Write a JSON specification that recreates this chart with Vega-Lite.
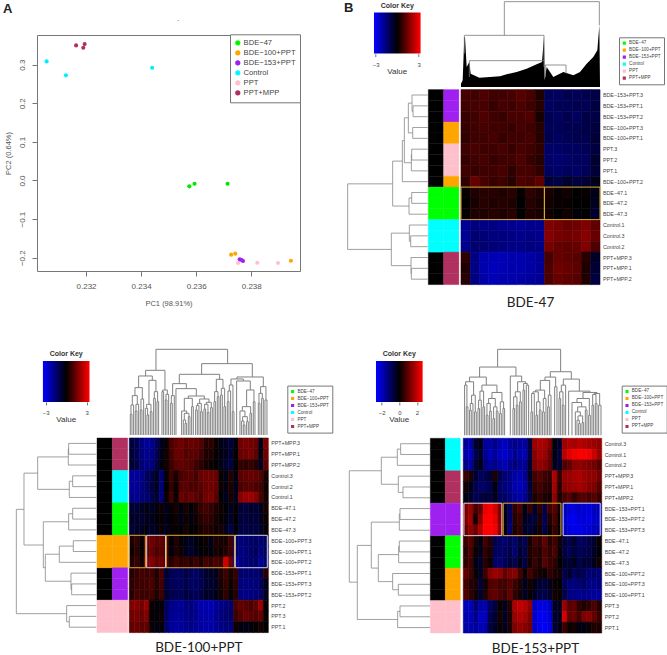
{"$schema":"https://vega.github.io/schema/vega-lite/v6.json","padding":{"left":3,"top":1,"right":0,"bottom":0},"background":"white",
"config":{"view":{"stroke":null},"font":"Liberation Sans","legend":{"title":null}},
"datasets":{
"pts":[{"g":"PPT+MPP","x":0.23164,"y":0.35},{"g":"PPT+MPP","x":0.2319,"y":0.344},{"g":"PPT+MPP","x":0.23195,"y":0.3535},{"g":"Control","x":0.23057,"y":0.3086},{"g":"Control","x":0.23127,"y":0.2724},{"g":"Control","x":0.2344,"y":0.2922},{"g":"BDE−47","x":0.23575,"y":-0.0152},{"g":"BDE−47","x":0.23594,"y":-0.0083},{"g":"BDE−47","x":0.23714,"y":-0.0083},{"g":"BDE−100+PPT","x":0.23727,"y":-0.1922},{"g":"BDE−100+PPT","x":0.23742,"y":-0.1896},{"g":"BDE−100+PPT","x":0.23944,"y":-0.2078},{"g":"PPT","x":0.23752,"y":-0.2138},{"g":"PPT","x":0.23822,"y":-0.213},{"g":"PPT","x":0.23897,"y":-0.2138},{"g":"BDE−153+PPT","x":0.23758,"y":-0.2043},{"g":"BDE−153+PPT","x":0.23765,"y":-0.206},{"g":"BDE−153+PPT","x":0.2377,"y":-0.2086}],
"rb":[{"r":1,"g":"BDE−153+PPT","label":"BDE−153+PPT.3"},{"r":2,"g":"BDE−153+PPT","label":"BDE−153+PPT.1"},{"r":3,"g":"BDE−153+PPT","label":"BDE−153+PPT.2"},{"r":4,"g":"BDE−100+PPT","label":"BDE−100+PPT.3"},{"r":5,"g":"BDE−100+PPT","label":"BDE−100+PPT.1"},{"r":6,"g":"PPT","label":"PPT.3"},{"r":7,"g":"PPT","label":"PPT.2"},{"r":8,"g":"PPT","label":"PPT.1"},{"r":9,"g":"BDE−100+PPT","label":"BDE−100+PPT.2"},{"r":10,"g":"BDE−47","label":"BDE−47.1"},{"r":11,"g":"BDE−47","label":"BDE−47.2"},{"r":12,"g":"BDE−47","label":"BDE−47.3"},{"r":13,"g":"Control","label":"Control.1"},{"r":14,"g":"Control","label":"Control.3"},{"r":15,"g":"Control","label":"Control.2"},{"r":16,"g":"PPT+MPP","label":"PPT+MPP.3"},{"r":17,"g":"PPT+MPP","label":"PPT+MPP.1"},{"r":18,"g":"PPT+MPP","label":"PPT+MPP.2"}],
"rc":[{"r":1,"g":"PPT+MPP","label":"PPT+MPP.3"},{"r":2,"g":"PPT+MPP","label":"PPT+MPP.1"},{"r":3,"g":"PPT+MPP","label":"PPT+MPP.2"},{"r":4,"g":"Control","label":"Control.3"},{"r":5,"g":"Control","label":"Control.2"},{"r":6,"g":"Control","label":"Control.1"},{"r":7,"g":"BDE−47","label":"BDE−47.1"},{"r":8,"g":"BDE−47","label":"BDE−47.2"},{"r":9,"g":"BDE−47","label":"BDE−47.3"},{"r":10,"g":"BDE−100+PPT","label":"BDE−100+PPT.3"},{"r":11,"g":"BDE−100+PPT","label":"BDE−100+PPT.1"},{"r":12,"g":"BDE−100+PPT","label":"BDE−100+PPT.2"},{"r":13,"g":"BDE−153+PPT","label":"BDE−153+PPT.1"},{"r":14,"g":"BDE−153+PPT","label":"BDE−153+PPT.3"},{"r":15,"g":"BDE−153+PPT","label":"BDE−153+PPT.2"},{"r":16,"g":"PPT","label":"PPT.2"},{"r":17,"g":"PPT","label":"PPT.3"},{"r":18,"g":"PPT","label":"PPT.1"}],
"rd":[{"r":1,"g":"Control","label":"Control.3"},{"r":2,"g":"Control","label":"Control.1"},{"r":3,"g":"Control","label":"Control.2"},{"r":4,"g":"PPT+MPP","label":"PPT+MPP.3"},{"r":5,"g":"PPT+MPP","label":"PPT+MPP.1"},{"r":6,"g":"PPT+MPP","label":"PPT+MPP.2"},{"r":7,"g":"BDE−153+PPT","label":"BDE−153+PPT.1"},{"r":8,"g":"BDE−153+PPT","label":"BDE−153+PPT.2"},{"r":9,"g":"BDE−153+PPT","label":"BDE−153+PPT.3"},{"r":10,"g":"BDE−47","label":"BDE−47.1"},{"r":11,"g":"BDE−47","label":"BDE−47.2"},{"r":12,"g":"BDE−47","label":"BDE−47.3"},{"r":13,"g":"BDE−100+PPT","label":"BDE−100+PPT.2"},{"r":14,"g":"BDE−100+PPT","label":"BDE−100+PPT.3"},{"r":15,"g":"BDE−100+PPT","label":"BDE−100+PPT.1"},{"r":16,"g":"PPT","label":"PPT.3"},{"r":17,"g":"PPT","label":"PPT.2"},{"r":18,"g":"PPT","label":"PPT.1"}],
"lb":[{"h":44,"a":1.5,"b":2.5,"ha":0,"hb":0},{"h":47,"a":0.5,"b":2,"ha":0,"hb":44},{"h":45,"a":3.5,"b":4.5,"ha":0,"hb":0},{"h":58,"a":1.25,"b":4,"ha":47,"hb":45},{"h":48,"a":5.5,"b":6.5,"ha":0,"hb":0},{"h":49,"a":6,"b":7.5,"ha":48,"hb":0},{"h":70,"a":2.6,"b":6.75,"ha":58,"hb":49},{"h":76,"a":4.7,"b":8.5,"ha":70,"hb":0},{"h":48,"a":9.5,"b":10.5,"ha":0,"hb":0},{"h":56,"a":10,"b":11.5,"ha":48,"hb":0},{"h":105,"a":6.6,"b":10.75,"ha":76,"hb":56},{"h":51,"a":13.5,"b":14.5,"ha":0,"hb":0},{"h":55,"a":12.5,"b":14,"ha":0,"hb":51},{"h":49,"a":16.5,"b":17.5,"ha":0,"hb":0},{"h":50,"a":15.5,"b":17,"ha":0,"hb":49},{"h":109,"a":13.25,"b":16.25,"ha":55,"hb":50},{"h":240,"a":8.7,"b":14.75,"ha":105,"hb":109}],
"lc":[{"h":83,"a":0.5,"b":1.5,"ha":0,"hb":0},{"h":84,"a":1,"b":2.5,"ha":83,"hb":0},{"h":71,"a":3.5,"b":4.5,"ha":0,"hb":0},{"h":81,"a":4,"b":5.5,"ha":71,"hb":0},{"h":176,"a":1.75,"b":4.75,"ha":84,"hb":81},{"h":71,"a":6.5,"b":7.5,"ha":0,"hb":0},{"h":83,"a":7,"b":8.5,"ha":71,"hb":0},{"h":69,"a":9.5,"b":10.5,"ha":0,"hb":0},{"h":111,"a":10,"b":11.5,"ha":69,"hb":0},{"h":74,"a":13.5,"b":14.5,"ha":0,"hb":0},{"h":76,"a":12.5,"b":14,"ha":0,"hb":74},{"h":153,"a":10.75,"b":13.25,"ha":111,"hb":76},{"h":159,"a":7.75,"b":12,"ha":83,"hb":153},{"h":217,"a":3.25,"b":9.9,"ha":176,"hb":159},{"h":81,"a":16.5,"b":17.5,"ha":0,"hb":0},{"h":89,"a":15.5,"b":17,"ha":0,"hb":81},{"h":240,"a":6.6,"b":16.25,"ha":217,"hb":89}],
"ld":[{"h":88,"a":0.5,"b":1.5,"ha":0,"hb":0},{"h":98,"a":1,"b":2.5,"ha":88,"hb":0},{"h":81,"a":4.5,"b":5.5,"ha":0,"hb":0},{"h":95,"a":3.5,"b":5,"ha":0,"hb":81},{"h":146,"a":1.75,"b":4.25,"ha":98,"hb":95},{"h":90,"a":6.5,"b":7.5,"ha":0,"hb":0},{"h":92,"a":7,"b":8.5,"ha":90,"hb":0},{"h":92,"a":9.5,"b":10.5,"ha":0,"hb":0},{"h":94,"a":10,"b":11.5,"ha":92,"hb":0},{"h":95,"a":13.5,"b":14.5,"ha":0,"hb":0},{"h":112,"a":12.5,"b":14,"ha":0,"hb":95},{"h":155,"a":10.75,"b":13.25,"ha":94,"hb":112},{"h":176,"a":7.75,"b":12,"ha":92,"hb":155},{"h":90,"a":15.5,"b":16.5,"ha":0,"hb":0},{"h":97,"a":16,"b":17.5,"ha":90,"hb":0},{"h":218,"a":9.9,"b":16.75,"ha":176,"hb":97},{"h":242,"a":3,"b":13.3,"ha":146,"hb":218}],
"tb":[{"h":256,"a":493,"b":778,"ha":155,"hb":185},{"h":155,"a":373,"b":612,"ha":100,"hb":79},{"h":79,"a":388,"b":612,"ha":30,"hb":60},{"h":66,"a":616,"b":678,"ha":30,"hb":40}],
"mass":[{"a":363,"h":10},{"a":368,"h":20},{"a":373,"h":150},{"a":375,"h":150},{"a":380,"h":60},{"a":388,"h":75},{"a":392,"h":40},{"a":418,"h":28},{"a":450,"h":30},{"a":480,"h":32},{"a":500,"h":38},{"a":530,"h":45},{"a":560,"h":55},{"a":590,"h":68},{"a":606,"h":75},{"a":612,"h":150},{"a":614,"h":20},{"a":620,"h":60},{"a":640,"h":30},{"a":670,"h":45},{"a":700,"h":35},{"a":720,"h":45},{"a":740,"h":70},{"a":760,"h":90},{"a":772,"h":110},{"a":778,"h":185},{"a":780,"h":10}],
"tc":[{"h":62,"a":16,"b":21,"ha":0,"hb":0},{"h":90,"a":18,"b":26,"ha":62,"hb":0},{"h":72,"a":31,"b":36,"ha":0,"hb":0},{"h":92,"a":33,"b":41,"ha":72,"hb":0},{"h":118,"a":22,"b":37,"ha":90,"hb":92},{"h":75,"a":46,"b":51,"ha":0,"hb":0},{"h":108,"a":48,"b":56,"ha":75,"hb":0},{"h":142,"a":30,"b":52,"ha":118,"hb":108},{"h":60,"a":66,"b":71,"ha":0,"hb":0},{"h":80,"a":61,"b":68,"ha":0,"hb":60},{"h":70,"a":76,"b":81,"ha":0,"hb":0},{"h":92,"a":65,"b":78,"ha":80,"hb":70},{"h":110,"a":86,"b":91,"ha":0,"hb":0},{"h":100,"a":96,"b":101,"ha":0,"hb":0},{"h":130,"a":88,"b":98,"ha":110,"hb":100},{"h":164,"a":72,"b":93,"ha":92,"hb":130},{"h":177,"a":41,"b":82,"ha":142,"hb":164},{"h":130,"a":111,"b":116,"ha":0,"hb":0},{"h":105,"a":121,"b":126,"ha":0,"hb":0},{"h":122,"a":123,"b":131,"ha":105,"hb":0},{"h":135,"a":113,"b":127,"ha":130,"hb":122},{"h":194,"a":62,"b":120,"ha":177,"hb":135},{"h":95,"a":137,"b":142,"ha":0,"hb":0},{"h":118,"a":139,"b":148,"ha":95,"hb":0},{"h":35,"a":180,"b":185,"ha":0,"hb":0},{"h":45,"a":175,"b":182,"ha":0,"hb":35},{"h":55,"a":190,"b":195,"ha":0,"hb":0},{"h":65,"a":178,"b":192,"ha":45,"hb":55},{"h":72,"a":170,"b":185,"ha":0,"hb":65},{"h":85,"a":200,"b":205,"ha":0,"hb":0},{"h":110,"a":178,"b":202,"ha":72,"hb":85},{"h":75,"a":212,"b":217,"ha":0,"hb":0},{"h":88,"a":214,"b":222,"ha":75,"hb":0},{"h":70,"a":227,"b":232,"ha":0,"hb":0},{"h":95,"a":218,"b":229,"ha":88,"hb":70},{"h":78,"a":237,"b":242,"ha":0,"hb":0},{"h":68,"a":247,"b":252,"ha":0,"hb":0},{"h":92,"a":239,"b":249,"ha":78,"hb":68},{"h":82,"a":257,"b":262,"ha":0,"hb":0},{"h":98,"a":244,"b":259,"ha":92,"hb":82},{"h":108,"a":224,"b":252,"ha":95,"hb":98},{"h":117,"a":190,"b":238,"ha":110,"hb":108},{"h":139,"a":153,"b":214,"ha":0,"hb":117},{"h":154,"a":143,"b":184,"ha":118,"hb":139},{"h":100,"a":267,"b":272,"ha":0,"hb":0},{"h":115,"a":277,"b":282,"ha":0,"hb":0},{"h":130,"a":269,"b":279,"ha":100,"hb":115},{"h":120,"a":287,"b":292,"ha":0,"hb":0},{"h":85,"a":297,"b":302,"ha":0,"hb":0},{"h":140,"a":289,"b":299,"ha":120,"hb":85},{"h":167,"a":274,"b":294,"ha":130,"hb":140},{"h":182,"a":163,"b":284,"ha":154,"hb":167},{"h":100,"a":307,"b":312,"ha":0,"hb":0},{"h":132,"a":309,"b":317,"ha":100,"hb":0},{"h":70,"a":322,"b":327,"ha":0,"hb":0},{"h":150,"a":313,"b":324,"ha":132,"hb":70},{"h":30,"a":355,"b":360,"ha":0,"hb":0},{"h":42,"a":350,"b":357,"ha":0,"hb":30},{"h":40,"a":365,"b":370,"ha":0,"hb":0},{"h":55,"a":353,"b":367,"ha":42,"hb":40},{"h":72,"a":345,"b":360,"ha":0,"hb":55},{"h":65,"a":375,"b":380,"ha":0,"hb":0},{"h":85,"a":352,"b":377,"ha":72,"hb":65},{"h":100,"a":385,"b":390,"ha":0,"hb":0},{"h":135,"a":365,"b":387,"ha":85,"hb":100},{"h":162,"a":335,"b":376,"ha":0,"hb":135},{"h":95,"a":400,"b":405,"ha":0,"hb":0},{"h":110,"a":410,"b":415,"ha":0,"hb":0},{"h":125,"a":402,"b":412,"ha":95,"hb":110},{"h":105,"a":420,"b":426,"ha":0,"hb":0},{"h":145,"a":407,"b":423,"ha":125,"hb":105},{"h":168,"a":318,"b":355,"ha":150,"hb":162},{"h":174,"a":336,"b":415,"ha":168,"hb":145},{"h":214,"a":230,"b":382,"ha":182,"hb":174},{"h":257,"a":93,"b":308,"ha":194,"hb":214}],
"td":[{"h":85,"a":18,"b":23,"ha":0,"hb":0},{"h":150,"a":13,"b":20,"ha":0,"hb":85},{"h":75,"a":28,"b":33,"ha":0,"hb":0},{"h":95,"a":30,"b":38,"ha":75,"hb":0},{"h":70,"a":43,"b":48,"ha":0,"hb":0},{"h":120,"a":34,"b":45,"ha":95,"hb":70},{"h":160,"a":16,"b":40,"ha":150,"hb":120},{"h":80,"a":53,"b":58,"ha":0,"hb":0},{"h":105,"a":55,"b":63,"ha":80,"hb":0},{"h":85,"a":68,"b":73,"ha":0,"hb":0},{"h":132,"a":59,"b":70,"ha":105,"hb":85},{"h":60,"a":78,"b":83,"ha":0,"hb":0},{"h":72,"a":88,"b":93,"ha":0,"hb":0},{"h":95,"a":80,"b":90,"ha":60,"hb":72},{"h":50,"a":98,"b":103,"ha":0,"hb":0},{"h":72,"a":108,"b":113,"ha":0,"hb":0},{"h":85,"a":100,"b":110,"ha":50,"hb":72},{"h":110,"a":85,"b":105,"ha":95,"hb":85},{"h":65,"a":118,"b":123,"ha":0,"hb":0},{"h":80,"a":128,"b":133,"ha":0,"hb":0},{"h":100,"a":120,"b":130,"ha":65,"hb":80},{"h":128,"a":95,"b":125,"ha":110,"hb":100},{"h":150,"a":65,"b":110,"ha":132,"hb":128},{"h":174,"a":28,"b":78,"ha":160,"hb":150},{"h":80,"a":158,"b":163,"ha":0,"hb":0},{"h":90,"a":168,"b":173,"ha":0,"hb":0},{"h":115,"a":160,"b":170,"ha":80,"hb":90},{"h":100,"a":178,"b":183,"ha":0,"hb":0},{"h":130,"a":165,"b":180,"ha":115,"hb":100},{"h":135,"a":188,"b":193,"ha":0,"hb":0},{"h":150,"a":198,"b":205,"ha":0,"hb":0},{"h":155,"a":190,"b":201,"ha":135,"hb":150},{"h":160,"a":172,"b":196,"ha":130,"hb":155},{"h":177,"a":150,"b":184,"ha":0,"hb":160},{"h":204,"a":58,"b":167,"ha":174,"hb":177},{"h":70,"a":212,"b":217,"ha":0,"hb":0},{"h":125,"a":214,"b":222,"ha":70,"hb":0},{"h":60,"a":227,"b":232,"ha":0,"hb":0},{"h":75,"a":237,"b":242,"ha":0,"hb":0},{"h":100,"a":229,"b":239,"ha":60,"hb":75},{"h":130,"a":218,"b":234,"ha":125,"hb":100},{"h":70,"a":247,"b":252,"ha":0,"hb":0},{"h":110,"a":249,"b":257,"ha":70,"hb":0},{"h":135,"a":226,"b":253,"ha":130,"hb":110},{"h":85,"a":262,"b":267,"ha":0,"hb":0},{"h":120,"a":264,"b":272,"ha":85,"hb":0},{"h":164,"a":240,"b":268,"ha":135,"hb":120},{"h":145,"a":283,"b":290,"ha":0,"hb":0},{"h":174,"a":254,"b":286,"ha":164,"hb":145},{"h":110,"a":296,"b":301,"ha":0,"hb":0},{"h":90,"a":306,"b":311,"ha":0,"hb":0},{"h":130,"a":298,"b":308,"ha":110,"hb":90},{"h":150,"a":303,"b":316,"ha":130,"hb":0},{"h":35,"a":355,"b":360,"ha":0,"hb":0},{"h":45,"a":350,"b":357,"ha":0,"hb":35},{"h":38,"a":365,"b":370,"ha":0,"hb":0},{"h":58,"a":353,"b":367,"ha":45,"hb":38},{"h":70,"a":345,"b":360,"ha":0,"hb":58},{"h":75,"a":375,"b":380,"ha":0,"hb":0},{"h":85,"a":352,"b":377,"ha":70,"hb":75},{"h":98,"a":335,"b":364,"ha":0,"hb":85},{"h":60,"a":385,"b":390,"ha":0,"hb":0},{"h":110,"a":350,"b":387,"ha":98,"hb":60},{"h":90,"a":395,"b":400,"ha":0,"hb":0},{"h":95,"a":405,"b":410,"ha":0,"hb":0},{"h":122,"a":397,"b":407,"ha":90,"hb":95},{"h":90,"a":415,"b":422,"ha":0,"hb":0},{"h":125,"a":402,"b":418,"ha":122,"hb":90},{"h":128,"a":368,"b":410,"ha":110,"hb":125},{"h":132,"a":325,"b":389,"ha":0,"hb":128},{"h":168,"a":309,"b":357,"ha":150,"hb":132},{"h":190,"a":270,"b":333,"ha":174,"hb":168},{"h":257,"a":112,"b":301,"ha":204,"hb":190}],
"bb":[{"a":0,"b":9,"t":9,"u":12,"k":"up"},{"a":9,"b":15,"t":9,"u":12,"k":"up"}],
"bc":[{"a":0,"b":3.3,"t":9,"u":12,"k":"up"},{"a":3.5,"b":7.3,"t":9,"u":12,"k":"down"},{"a":7.45,"b":21.2,"t":9,"u":12,"k":"up"},{"a":21.35,"b":27.8,"t":9,"u":12,"k":"down"}],
"bd":[{"a":0.13,"b":7.8,"t":6,"u":9,"k":"down"},{"a":8.07,"b":19.75,"t":6,"u":9,"k":"up"},{"a":20.2,"b":27.7,"t":6,"u":9,"k":"down"}],
"cb":[
{"r":1,"c":1,"v":0.9},{"r":1,"c":2,"v":0.8},{"r":1,"c":3,"v":1.0},{"r":1,"c":4,"v":0.8},{"r":1,"c":5,"v":0.8},{"r":1,"c":6,"v":0.9},{"r":1,"c":7,"v":1.1},{"r":1,"c":8,"v":0.9},{"r":1,"c":9,"v":0.4},{"r":1,"c":10,"v":-1.1},{"r":1,"c":11,"v":-1.2},{"r":1,"c":12,"v":-1.0},{"r":1,"c":13,"v":-1.1},{"r":1,"c":14,"v":-1.0},{"r":1,"c":15,"v":-0.9},
{"r":2,"c":1,"v":0.8},{"r":2,"c":2,"v":0.9},{"r":2,"c":3,"v":0.9},{"r":2,"c":4,"v":0.7},{"r":2,"c":5,"v":0.9},{"r":2,"c":6,"v":0.8},{"r":2,"c":7,"v":1.0},{"r":2,"c":8,"v":0.8},{"r":2,"c":9,"v":0.5},{"r":2,"c":10,"v":-1.2},{"r":2,"c":11,"v":-1.1},{"r":2,"c":12,"v":-1.1},{"r":2,"c":13,"v":-1.0},{"r":2,"c":14,"v":-1.1},{"r":2,"c":15,"v":-0.8},
{"r":3,"c":1,"v":0.7},{"r":3,"c":2,"v":0.8},{"r":3,"c":3,"v":1.0},{"r":3,"c":4,"v":0.8},{"r":3,"c":5,"v":0.7},{"r":3,"c":6,"v":0.9},{"r":3,"c":7,"v":0.9},{"r":3,"c":8,"v":1.0},{"r":3,"c":9,"v":0.3},{"r":3,"c":10,"v":-1.0},{"r":3,"c":11,"v":-1.2},{"r":3,"c":12,"v":-1.0},{"r":3,"c":13,"v":-1.2},{"r":3,"c":14,"v":-0.9},{"r":3,"c":15,"v":-0.9},
{"r":4,"c":1,"v":0.7},{"r":4,"c":2,"v":0.8},{"r":4,"c":3,"v":0.9},{"r":4,"c":4,"v":0.8},{"r":4,"c":5,"v":0.8},{"r":4,"c":6,"v":0.7},{"r":4,"c":7,"v":0.9},{"r":4,"c":8,"v":0.8},{"r":4,"c":9,"v":0.5},{"r":4,"c":10,"v":-1.1},{"r":4,"c":11,"v":-1.1},{"r":4,"c":12,"v":-1.0},{"r":4,"c":13,"v":-1.0},{"r":4,"c":14,"v":-0.9},{"r":4,"c":15,"v":-0.8},
{"r":5,"c":1,"v":0.6},{"r":5,"c":2,"v":0.8},{"r":5,"c":3,"v":0.8},{"r":5,"c":4,"v":0.9},{"r":5,"c":5,"v":0.7},{"r":5,"c":6,"v":0.8},{"r":5,"c":7,"v":0.8},{"r":5,"c":8,"v":0.9},{"r":5,"c":9,"v":0.5},{"r":5,"c":10,"v":-1.0},{"r":5,"c":11,"v":-1.2},{"r":5,"c":12,"v":-1.1},{"r":5,"c":13,"v":-1.0},{"r":5,"c":14,"v":-1.0},{"r":5,"c":15,"v":-0.7},
{"r":6,"c":1,"v":0.8},{"r":6,"c":2,"v":0.9},{"r":6,"c":3,"v":0.8},{"r":6,"c":4,"v":0.8},{"r":6,"c":5,"v":0.9},{"r":6,"c":6,"v":0.7},{"r":6,"c":7,"v":0.9},{"r":6,"c":8,"v":0.8},{"r":6,"c":9,"v":0.6},{"r":6,"c":10,"v":-1.3},{"r":6,"c":11,"v":-1.3},{"r":6,"c":12,"v":-1.2},{"r":6,"c":13,"v":-1.2},{"r":6,"c":14,"v":-1.1},{"r":6,"c":15,"v":-0.8},
{"r":7,"c":1,"v":0.7},{"r":7,"c":2,"v":0.8},{"r":7,"c":3,"v":0.9},{"r":7,"c":4,"v":0.7},{"r":7,"c":5,"v":0.8},{"r":7,"c":6,"v":0.8},{"r":7,"c":7,"v":1.0},{"r":7,"c":8,"v":0.7},{"r":7,"c":9,"v":0.5},{"r":7,"c":10,"v":-1.3},{"r":7,"c":11,"v":-1.4},{"r":7,"c":12,"v":-1.3},{"r":7,"c":13,"v":-1.2},{"r":7,"c":14,"v":-1.2},{"r":7,"c":15,"v":-0.6},
{"r":8,"c":1,"v":0.8},{"r":8,"c":2,"v":0.7},{"r":8,"c":3,"v":0.8},{"r":8,"c":4,"v":0.8},{"r":8,"c":5,"v":0.9},{"r":8,"c":6,"v":0.6},{"r":8,"c":7,"v":0.9},{"r":8,"c":8,"v":0.9},{"r":8,"c":9,"v":0.6},{"r":8,"c":10,"v":-1.2},{"r":8,"c":11,"v":-1.3},{"r":8,"c":12,"v":-1.2},{"r":8,"c":13,"v":-1.3},{"r":8,"c":14,"v":-1.1},{"r":8,"c":15,"v":-0.7},
{"r":9,"c":1,"v":0.6},{"r":9,"c":2,"v":1.3},{"r":9,"c":3,"v":0.9},{"r":9,"c":4,"v":0.7},{"r":9,"c":5,"v":0.8},{"r":9,"c":6,"v":0.5},{"r":9,"c":7,"v":1.0},{"r":9,"c":8,"v":0.9},{"r":9,"c":9,"v":1.2},{"r":9,"c":10,"v":-0.7},{"r":9,"c":11,"v":-0.9},{"r":9,"c":12,"v":-0.6},{"r":9,"c":13,"v":-0.8},{"r":9,"c":14,"v":-0.7},{"r":9,"c":15,"v":-0.3},
{"r":10,"c":1,"v":0.1},{"r":10,"c":2,"v":0.4},{"r":10,"c":3,"v":0.5},{"r":10,"c":4,"v":0.5},{"r":10,"c":5,"v":0.4},{"r":10,"c":6,"v":0.5},{"r":10,"c":7,"v":0.1},{"r":10,"c":8,"v":0.6},{"r":10,"c":9,"v":0.4},{"r":10,"c":10,"v":0.3},{"r":10,"c":11,"v":0.1},{"r":10,"c":12,"v":0.2},{"r":10,"c":13,"v":0.0},{"r":10,"c":14,"v":0.1},{"r":10,"c":15,"v":-0.3},
{"r":11,"c":1,"v":0.0},{"r":11,"c":2,"v":0.3},{"r":11,"c":3,"v":0.5},{"r":11,"c":4,"v":0.4},{"r":11,"c":5,"v":0.5},{"r":11,"c":6,"v":0.4},{"r":11,"c":7,"v":0.0},{"r":11,"c":8,"v":0.5},{"r":11,"c":9,"v":0.3},{"r":11,"c":10,"v":0.2},{"r":11,"c":11,"v":0.1},{"r":11,"c":12,"v":0.1},{"r":11,"c":13,"v":0.0},{"r":11,"c":14,"v":0.0},{"r":11,"c":15,"v":-0.4},
{"r":12,"c":1,"v":0.1},{"r":12,"c":2,"v":0.4},{"r":12,"c":3,"v":0.4},{"r":12,"c":4,"v":0.5},{"r":12,"c":5,"v":0.4},{"r":12,"c":6,"v":0.5},{"r":12,"c":7,"v":0.0},{"r":12,"c":8,"v":0.4},{"r":12,"c":9,"v":0.3},{"r":12,"c":10,"v":0.2},{"r":12,"c":11,"v":0.0},{"r":12,"c":12,"v":0.2},{"r":12,"c":13,"v":-0.1},{"r":12,"c":14,"v":0.0},{"r":12,"c":15,"v":-0.6},
{"r":13,"c":1,"v":-1.9},{"r":13,"c":2,"v":-1.6},{"r":13,"c":3,"v":-1.7},{"r":13,"c":4,"v":-1.7},{"r":13,"c":5,"v":-1.8},{"r":13,"c":6,"v":-1.8},{"r":13,"c":7,"v":-1.9},{"r":13,"c":8,"v":-1.8},{"r":13,"c":9,"v":-1.8},{"r":13,"c":10,"v":1.6},{"r":13,"c":11,"v":1.5},{"r":13,"c":12,"v":1.3},{"r":13,"c":13,"v":1.4},{"r":13,"c":14,"v":1.6},{"r":13,"c":15,"v":1.2},
{"r":14,"c":1,"v":-1.9},{"r":14,"c":2,"v":-1.4},{"r":14,"c":3,"v":-1.5},{"r":14,"c":4,"v":-1.6},{"r":14,"c":5,"v":-1.6},{"r":14,"c":6,"v":-1.7},{"r":14,"c":7,"v":-1.8},{"r":14,"c":8,"v":-1.7},{"r":14,"c":9,"v":-1.8},{"r":14,"c":10,"v":1.7},{"r":14,"c":11,"v":1.5},{"r":14,"c":12,"v":1.4},{"r":14,"c":13,"v":1.5},{"r":14,"c":14,"v":1.7},{"r":14,"c":15,"v":1.3},
{"r":15,"c":1,"v":-1.8},{"r":15,"c":2,"v":-1.4},{"r":15,"c":3,"v":-1.4},{"r":15,"c":4,"v":-1.5},{"r":15,"c":5,"v":-1.6},{"r":15,"c":6,"v":-1.7},{"r":15,"c":7,"v":-1.7},{"r":15,"c":8,"v":-1.6},{"r":15,"c":9,"v":-1.7},{"r":15,"c":10,"v":1.5},{"r":15,"c":11,"v":1.3},{"r":15,"c":12,"v":1.2},{"r":15,"c":13,"v":1.3},{"r":15,"c":14,"v":1.6},{"r":15,"c":15,"v":1.0},
{"r":16,"c":1,"v":0.6},{"r":16,"c":2,"v":-1.7},{"r":16,"c":3,"v":-2.2},{"r":16,"c":4,"v":-2.3},{"r":16,"c":5,"v":-2.3},{"r":16,"c":6,"v":-2.2},{"r":16,"c":7,"v":-2.2},{"r":16,"c":8,"v":-2.1},{"r":16,"c":9,"v":-1.9},{"r":16,"c":10,"v":0.9},{"r":16,"c":11,"v":1.3},{"r":16,"c":12,"v":1.2},{"r":16,"c":13,"v":1.1},{"r":16,"c":14,"v":0.5},{"r":16,"c":15,"v":-0.5},
{"r":17,"c":1,"v":0.4},{"r":17,"c":2,"v":-1.7},{"r":17,"c":3,"v":-2.2},{"r":17,"c":4,"v":-2.4},{"r":17,"c":5,"v":-2.3},{"r":17,"c":6,"v":-2.2},{"r":17,"c":7,"v":-2.2},{"r":17,"c":8,"v":-2.1},{"r":17,"c":9,"v":-1.9},{"r":17,"c":10,"v":1.0},{"r":17,"c":11,"v":1.4},{"r":17,"c":12,"v":1.3},{"r":17,"c":13,"v":1.2},{"r":17,"c":14,"v":0.4},{"r":17,"c":15,"v":-0.7},
{"r":18,"c":1,"v":0.5},{"r":18,"c":2,"v":-1.6},{"r":18,"c":3,"v":-2.1},{"r":18,"c":4,"v":-2.3},{"r":18,"c":5,"v":-2.2},{"r":18,"c":6,"v":-2.2},{"r":18,"c":7,"v":-2.1},{"r":18,"c":8,"v":-2.0},{"r":18,"c":9,"v":-1.9},{"r":18,"c":10,"v":1.0},{"r":18,"c":11,"v":1.3},{"r":18,"c":12,"v":1.2},{"r":18,"c":13,"v":1.1},{"r":18,"c":14,"v":0.4},{"r":18,"c":15,"v":-0.8}],
"cc":[
{"r":1,"c":1,"v":-0.8},{"r":1,"c":2,"v":-1},{"r":1,"c":3,"v":-1.7},{"r":1,"c":4,"v":-2},{"r":1,"c":5,"v":-1.9},{"r":1,"c":6,"v":-1.3},{"r":1,"c":7,"v":-0.4},{"r":1,"c":8,"v":0.1},{"r":1,"c":9,"v":1},{"r":1,"c":10,"v":1.3},{"r":1,"c":11,"v":1.5},{"r":1,"c":12,"v":1.2},{"r":1,"c":13,"v":1.4},{"r":1,"c":14,"v":1.3},{"r":1,"c":15,"v":1.1},{"r":1,"c":16,"v":0.5},{"r":1,"c":17,"v":0.6},{"r":1,"c":18,"v":0.2},{"r":1,"c":19,"v":-0.3},{"r":1,"c":20,"v":-0.5},{"r":1,"c":21,"v":-0.8},{"r":1,"c":22,"v":-0.1},{"r":1,"c":23,"v":1.5},{"r":1,"c":24,"v":1.6},{"r":1,"c":25,"v":1.5},{"r":1,"c":26,"v":1.4},{"r":1,"c":27,"v":-0.3},{"r":1,"c":28,"v":1.6},
{"r":2,"c":1,"v":-0.7},{"r":2,"c":2,"v":-1.1},{"r":2,"c":3,"v":-1.6},{"r":2,"c":4,"v":-1.9},{"r":2,"c":5,"v":-1.8},{"r":2,"c":6,"v":-1.2},{"r":2,"c":7,"v":-0.3},{"r":2,"c":8,"v":0.2},{"r":2,"c":9,"v":0.9},{"r":2,"c":10,"v":1.4},{"r":2,"c":11,"v":1.4},{"r":2,"c":12,"v":1.1},{"r":2,"c":13,"v":1.2},{"r":2,"c":14,"v":1.2},{"r":2,"c":15,"v":0.9},{"r":2,"c":16,"v":0.4},{"r":2,"c":17,"v":0.4},{"r":2,"c":18,"v":0.1},{"r":2,"c":19,"v":-0.2},{"r":2,"c":20,"v":-0.4},{"r":2,"c":21,"v":-0.7},{"r":2,"c":22,"v":0},{"r":2,"c":23,"v":1.4},{"r":2,"c":24,"v":1.5},{"r":2,"c":25,"v":1.6},{"r":2,"c":26,"v":1.3},{"r":2,"c":27,"v":-0.2},{"r":2,"c":28,"v":1.5},
{"r":3,"c":1,"v":-0.6},{"r":3,"c":2,"v":-0.9},{"r":3,"c":3,"v":-1.5},{"r":3,"c":4,"v":-1.8},{"r":3,"c":5,"v":-1.7},{"r":3,"c":6,"v":-1},{"r":3,"c":7,"v":-0.2},{"r":3,"c":8,"v":0.2},{"r":3,"c":9,"v":0.8},{"r":3,"c":10,"v":1.2},{"r":3,"c":11,"v":1.3},{"r":3,"c":12,"v":1.2},{"r":3,"c":13,"v":1.1},{"r":3,"c":14,"v":0.8},{"r":3,"c":15,"v":0.6},{"r":3,"c":16,"v":0.3},{"r":3,"c":17,"v":0.2},{"r":3,"c":18,"v":0},{"r":3,"c":19,"v":-0.3},{"r":3,"c":20,"v":-0.6},{"r":3,"c":21,"v":-0.9},{"r":3,"c":22,"v":0},{"r":3,"c":23,"v":0.7},{"r":3,"c":24,"v":0.6},{"r":3,"c":25,"v":0.7},{"r":3,"c":26,"v":0.5},{"r":3,"c":27,"v":-0.4},{"r":3,"c":28,"v":1.2},
{"r":4,"c":1,"v":-2},{"r":4,"c":2,"v":-2.1},{"r":4,"c":3,"v":-1.8},{"r":4,"c":4,"v":-1.3},{"r":4,"c":5,"v":-1},{"r":4,"c":6,"v":-0.4},{"r":4,"c":7,"v":-1.5},{"r":4,"c":8,"v":-0.1},{"r":4,"c":9,"v":0.8},{"r":4,"c":10,"v":0.3},{"r":4,"c":11,"v":1},{"r":4,"c":12,"v":1.1},{"r":4,"c":13,"v":1.2},{"r":4,"c":14,"v":0.9},{"r":4,"c":15,"v":1.4},{"r":4,"c":16,"v":1.5},{"r":4,"c":17,"v":1.5},{"r":4,"c":18,"v":1.4},{"r":4,"c":19,"v":0.1},{"r":4,"c":20,"v":-0.3},{"r":4,"c":21,"v":0.5},{"r":4,"c":22,"v":-0.2},{"r":4,"c":23,"v":1.2},{"r":4,"c":24,"v":1.3},{"r":4,"c":25,"v":1.4},{"r":4,"c":26,"v":1.3},{"r":4,"c":27,"v":1.1},{"r":4,"c":28,"v":0.3},
{"r":5,"c":1,"v":-1.9},{"r":5,"c":2,"v":-2},{"r":5,"c":3,"v":-1.7},{"r":5,"c":4,"v":-1.4},{"r":5,"c":5,"v":-0.9},{"r":5,"c":6,"v":-0.5},{"r":5,"c":7,"v":-1.6},{"r":5,"c":8,"v":0},{"r":5,"c":9,"v":0.7},{"r":5,"c":10,"v":0.2},{"r":5,"c":11,"v":1.1},{"r":5,"c":12,"v":1.2},{"r":5,"c":13,"v":1},{"r":5,"c":14,"v":1},{"r":5,"c":15,"v":1.2},{"r":5,"c":16,"v":1.4},{"r":5,"c":17,"v":1.5},{"r":5,"c":18,"v":1.3},{"r":5,"c":19,"v":0.2},{"r":5,"c":20,"v":-0.2},{"r":5,"c":21,"v":0.4},{"r":5,"c":22,"v":-0.3},{"r":5,"c":23,"v":1},{"r":5,"c":24,"v":1.1},{"r":5,"c":25,"v":1.2},{"r":5,"c":26,"v":1},{"r":5,"c":27,"v":0.9},{"r":5,"c":28,"v":0.2},
{"r":6,"c":1,"v":-1.8},{"r":6,"c":2,"v":-1.9},{"r":6,"c":3,"v":-1.6},{"r":6,"c":4,"v":-1.5},{"r":6,"c":5,"v":-1.1},{"r":6,"c":6,"v":-0.6},{"r":6,"c":7,"v":-1.7},{"r":6,"c":8,"v":0.1},{"r":6,"c":9,"v":0.9},{"r":6,"c":10,"v":0.1},{"r":6,"c":11,"v":1.4},{"r":6,"c":12,"v":1.2},{"r":6,"c":13,"v":1.4},{"r":6,"c":14,"v":1.2},{"r":6,"c":15,"v":1},{"r":6,"c":16,"v":1.5},{"r":6,"c":17,"v":1.6},{"r":6,"c":18,"v":1.2},{"r":6,"c":19,"v":0},{"r":6,"c":20,"v":-0.4},{"r":6,"c":21,"v":0.3},{"r":6,"c":22,"v":-0.4},{"r":6,"c":23,"v":1.8},{"r":6,"c":24,"v":2},{"r":6,"c":25,"v":2.1},{"r":6,"c":26,"v":1.8},{"r":6,"c":27,"v":1},{"r":6,"c":28,"v":0.3},
{"r":7,"c":1,"v":-0.6},{"r":7,"c":2,"v":-0.7},{"r":7,"c":3,"v":-0.5},{"r":7,"c":4,"v":-0.3},{"r":7,"c":5,"v":-0.5},{"r":7,"c":6,"v":-0.2},{"r":7,"c":7,"v":0.2},{"r":7,"c":8,"v":-0.4},{"r":7,"c":9,"v":0.1},{"r":7,"c":10,"v":0.3},{"r":7,"c":11,"v":-0.2},{"r":7,"c":12,"v":0.3},{"r":7,"c":13,"v":-0.1},{"r":7,"c":14,"v":0.3},{"r":7,"c":15,"v":0.7},{"r":7,"c":16,"v":0.9},{"r":7,"c":17,"v":0.7},{"r":7,"c":18,"v":0.4},{"r":7,"c":19,"v":0.2},{"r":7,"c":20,"v":-0.1},{"r":7,"c":21,"v":-0.5},{"r":7,"c":22,"v":0.1},{"r":7,"c":23,"v":-0.7},{"r":7,"c":24,"v":-0.8},{"r":7,"c":25,"v":-0.6},{"r":7,"c":26,"v":-0.7},{"r":7,"c":27,"v":-0.4},{"r":7,"c":28,"v":0.3},
{"r":8,"c":1,"v":-0.5},{"r":8,"c":2,"v":-0.6},{"r":8,"c":3,"v":-0.6},{"r":8,"c":4,"v":-0.4},{"r":8,"c":5,"v":-0.4},{"r":8,"c":6,"v":-0.1},{"r":8,"c":7,"v":0.1},{"r":8,"c":8,"v":-0.3},{"r":8,"c":9,"v":0},{"r":8,"c":10,"v":0.2},{"r":8,"c":11,"v":-0.3},{"r":8,"c":12,"v":0.2},{"r":8,"c":13,"v":-0.2},{"r":8,"c":14,"v":0.2},{"r":8,"c":15,"v":0.5},{"r":8,"c":16,"v":0.7},{"r":8,"c":17,"v":0.6},{"r":8,"c":18,"v":0.3},{"r":8,"c":19,"v":0.1},{"r":8,"c":20,"v":-0.2},{"r":8,"c":21,"v":-0.6},{"r":8,"c":22,"v":0},{"r":8,"c":23,"v":-0.8},{"r":8,"c":24,"v":-0.8},{"r":8,"c":25,"v":-0.7},{"r":8,"c":26,"v":-0.8},{"r":8,"c":27,"v":-0.5},{"r":8,"c":28,"v":0.2},
{"r":9,"c":1,"v":-0.7},{"r":9,"c":2,"v":-0.6},{"r":9,"c":3,"v":-0.5},{"r":9,"c":4,"v":-0.2},{"r":9,"c":5,"v":-0.6},{"r":9,"c":6,"v":-0.3},{"r":9,"c":7,"v":0.2},{"r":9,"c":8,"v":-0.5},{"r":9,"c":9,"v":0.1},{"r":9,"c":10,"v":0.1},{"r":9,"c":11,"v":-0.1},{"r":9,"c":12,"v":0.3},{"r":9,"c":13,"v":0},{"r":9,"c":14,"v":0.1},{"r":9,"c":15,"v":0.3},{"r":9,"c":16,"v":0.5},{"r":9,"c":17,"v":0.4},{"r":9,"c":18,"v":0.2},{"r":9,"c":19,"v":0.3},{"r":9,"c":20,"v":-0.4},{"r":9,"c":21,"v":-1},{"r":9,"c":22,"v":-0.1},{"r":9,"c":23,"v":-0.9},{"r":9,"c":24,"v":-1},{"r":9,"c":25,"v":-0.8},{"r":9,"c":26,"v":-0.9},{"r":9,"c":27,"v":-0.6},{"r":9,"c":28,"v":0.1},
{"r":10,"c":1,"v":0.3},{"r":10,"c":2,"v":0.7},{"r":10,"c":3,"v":0.1},{"r":10,"c":4,"v":1.3},{"r":10,"c":5,"v":1.5},{"r":10,"c":6,"v":1.2},{"r":10,"c":7,"v":1.3},{"r":10,"c":8,"v":1},{"r":10,"c":9,"v":-0.1},{"r":10,"c":10,"v":0.5},{"r":10,"c":11,"v":0.1},{"r":10,"c":12,"v":-0.3},{"r":10,"c":13,"v":-0.5},{"r":10,"c":14,"v":-0.2},{"r":10,"c":15,"v":0},{"r":10,"c":16,"v":0.2},{"r":10,"c":17,"v":-0.3},{"r":10,"c":18,"v":0.4},{"r":10,"c":19,"v":0.3},{"r":10,"c":20,"v":0.3},{"r":10,"c":21,"v":0.9},{"r":10,"c":22,"v":-1.3},{"r":10,"c":23,"v":-1.6},{"r":10,"c":24,"v":-1.5},{"r":10,"c":25,"v":-1.4},{"r":10,"c":26,"v":-1.3},{"r":10,"c":27,"v":-1.5},{"r":10,"c":28,"v":-1.2},
{"r":11,"c":1,"v":0.2},{"r":11,"c":2,"v":0.6},{"r":11,"c":3,"v":0.1},{"r":11,"c":4,"v":1.2},{"r":11,"c":5,"v":1.4},{"r":11,"c":6,"v":1},{"r":11,"c":7,"v":1.2},{"r":11,"c":8,"v":0.9},{"r":11,"c":9,"v":-0.2},{"r":11,"c":10,"v":0.4},{"r":11,"c":11,"v":0.2},{"r":11,"c":12,"v":-0.4},{"r":11,"c":13,"v":-0.6},{"r":11,"c":14,"v":-0.3},{"r":11,"c":15,"v":-0.1},{"r":11,"c":16,"v":0.1},{"r":11,"c":17,"v":-0.2},{"r":11,"c":18,"v":0.3},{"r":11,"c":19,"v":0.2},{"r":11,"c":20,"v":0.4},{"r":11,"c":21,"v":0.8},{"r":11,"c":22,"v":-1.4},{"r":11,"c":23,"v":-1.7},{"r":11,"c":24,"v":-1.6},{"r":11,"c":25,"v":-1.4},{"r":11,"c":26,"v":-1.2},{"r":11,"c":27,"v":-1.6},{"r":11,"c":28,"v":-1.3},
{"r":12,"c":1,"v":0.4},{"r":12,"c":2,"v":0.8},{"r":12,"c":3,"v":0.2},{"r":12,"c":4,"v":1.6},{"r":12,"c":5,"v":1.8},{"r":12,"c":6,"v":1.4},{"r":12,"c":7,"v":1.5},{"r":12,"c":8,"v":1},{"r":12,"c":9,"v":0.5},{"r":12,"c":10,"v":0.9},{"r":12,"c":11,"v":0.6},{"r":12,"c":12,"v":0.7},{"r":12,"c":13,"v":0.5},{"r":12,"c":14,"v":0.8},{"r":12,"c":15,"v":0.4},{"r":12,"c":16,"v":0.9},{"r":12,"c":17,"v":0.7},{"r":12,"c":18,"v":1},{"r":12,"c":19,"v":0.8},{"r":12,"c":20,"v":2.8},{"r":12,"c":21,"v":1.4},{"r":12,"c":22,"v":-2.2},{"r":12,"c":23,"v":-1.7},{"r":12,"c":24,"v":-1.6},{"r":12,"c":25,"v":-1.5},{"r":12,"c":26,"v":-1.4},{"r":12,"c":27,"v":-2},{"r":12,"c":28,"v":-1.4},
{"r":13,"c":1,"v":0.5},{"r":13,"c":2,"v":0.7},{"r":13,"c":3,"v":0.9},{"r":13,"c":4,"v":0.8},{"r":13,"c":5,"v":0.9},{"r":13,"c":6,"v":0.4},{"r":13,"c":7,"v":1},{"r":13,"c":8,"v":-0.7},{"r":13,"c":9,"v":-1.1},{"r":13,"c":10,"v":-1.3},{"r":13,"c":11,"v":-1.2},{"r":13,"c":12,"v":-0.9},{"r":13,"c":13,"v":-1.2},{"r":13,"c":14,"v":-1.4},{"r":13,"c":15,"v":-1},{"r":13,"c":16,"v":-0.6},{"r":13,"c":17,"v":-0.5},{"r":13,"c":18,"v":-0.4},{"r":13,"c":19,"v":0.4},{"r":13,"c":20,"v":0.8},{"r":13,"c":21,"v":0.3},{"r":13,"c":22,"v":0.7},{"r":13,"c":23,"v":-1.4},{"r":13,"c":24,"v":-1.5},{"r":13,"c":25,"v":-1.4},{"r":13,"c":26,"v":-1.5},{"r":13,"c":27,"v":-1.2},{"r":13,"c":28,"v":0.5},
{"r":14,"c":1,"v":0.6},{"r":14,"c":2,"v":0.8},{"r":14,"c":3,"v":0.8},{"r":14,"c":4,"v":0.9},{"r":14,"c":5,"v":1},{"r":14,"c":6,"v":0.5},{"r":14,"c":7,"v":0.9},{"r":14,"c":8,"v":-0.8},{"r":14,"c":9,"v":-1.2},{"r":14,"c":10,"v":-1.2},{"r":14,"c":11,"v":-1.3},{"r":14,"c":12,"v":-1},{"r":14,"c":13,"v":-1.3},{"r":14,"c":14,"v":-1.3},{"r":14,"c":15,"v":-1.1},{"r":14,"c":16,"v":-0.7},{"r":14,"c":17,"v":-0.6},{"r":14,"c":18,"v":-0.5},{"r":14,"c":19,"v":0.3},{"r":14,"c":20,"v":0.7},{"r":14,"c":21,"v":0.2},{"r":14,"c":22,"v":0.6},{"r":14,"c":23,"v":-1.6},{"r":14,"c":24,"v":-1.7},{"r":14,"c":25,"v":-1.6},{"r":14,"c":26,"v":-1.6},{"r":14,"c":27,"v":-1.3},{"r":14,"c":28,"v":-0.3},
{"r":15,"c":1,"v":0.5},{"r":15,"c":2,"v":0.9},{"r":15,"c":3,"v":0.8},{"r":15,"c":4,"v":0.8},{"r":15,"c":5,"v":0.9},{"r":15,"c":6,"v":0.4},{"r":15,"c":7,"v":0.8},{"r":15,"c":8,"v":-0.6},{"r":15,"c":9,"v":-1},{"r":15,"c":10,"v":-1.1},{"r":15,"c":11,"v":-1.2},{"r":15,"c":12,"v":-0.8},{"r":15,"c":13,"v":-1.1},{"r":15,"c":14,"v":-1.2},{"r":15,"c":15,"v":-0.9},{"r":15,"c":16,"v":-0.5},{"r":15,"c":17,"v":-0.6},{"r":15,"c":18,"v":-0.3},{"r":15,"c":19,"v":0.2},{"r":15,"c":20,"v":0.6},{"r":15,"c":21,"v":0.1},{"r":15,"c":22,"v":0.5},{"r":15,"c":23,"v":-1.7},{"r":15,"c":24,"v":-1.8},{"r":15,"c":25,"v":-1.7},{"r":15,"c":26,"v":-1.6},{"r":15,"c":27,"v":-1.4},{"r":15,"c":28,"v":-0.4},
{"r":16,"c":1,"v":1.7},{"r":16,"c":2,"v":1.8},{"r":16,"c":3,"v":1.5},{"r":16,"c":4,"v":2},{"r":16,"c":5,"v":0.2},{"r":16,"c":6,"v":-0.2},{"r":16,"c":7,"v":0.1},{"r":16,"c":8,"v":-1.2},{"r":16,"c":9,"v":-1.8},{"r":16,"c":10,"v":-1.9},{"r":16,"c":11,"v":-2},{"r":16,"c":12,"v":-1.7},{"r":16,"c":13,"v":-1.6},{"r":16,"c":14,"v":-2},{"r":16,"c":15,"v":-2.3},{"r":16,"c":16,"v":-2.3},{"r":16,"c":17,"v":-2.4},{"r":16,"c":18,"v":-2},{"r":16,"c":19,"v":-1.8},{"r":16,"c":20,"v":-1.6},{"r":16,"c":21,"v":-1.5},{"r":16,"c":22,"v":1},{"r":16,"c":23,"v":1.3},{"r":16,"c":24,"v":1.2},{"r":16,"c":25,"v":1},{"r":16,"c":26,"v":1.3},{"r":16,"c":27,"v":2},{"r":16,"c":28,"v":0.1},
{"r":17,"c":1,"v":1.5},{"r":17,"c":2,"v":1.6},{"r":17,"c":3,"v":1.4},{"r":17,"c":4,"v":1.7},{"r":17,"c":5,"v":0.1},{"r":17,"c":6,"v":-0.1},{"r":17,"c":7,"v":0.2},{"r":17,"c":8,"v":-1.3},{"r":17,"c":9,"v":-1.9},{"r":17,"c":10,"v":-2},{"r":17,"c":11,"v":-2},{"r":17,"c":12,"v":-1.8},{"r":17,"c":13,"v":-1.7},{"r":17,"c":14,"v":-1.9},{"r":17,"c":15,"v":-2.2},{"r":17,"c":16,"v":-2.2},{"r":17,"c":17,"v":-2.3},{"r":17,"c":18,"v":-1.9},{"r":17,"c":19,"v":-1.7},{"r":17,"c":20,"v":-1.5},{"r":17,"c":21,"v":-1.4},{"r":17,"c":22,"v":0.8},{"r":17,"c":23,"v":1.1},{"r":17,"c":24,"v":1.4},{"r":17,"c":25,"v":1.2},{"r":17,"c":26,"v":1.1},{"r":17,"c":27,"v":1.3},{"r":17,"c":28,"v":0.1},
{"r":18,"c":1,"v":1.3},{"r":18,"c":2,"v":1.4},{"r":18,"c":3,"v":1.2},{"r":18,"c":4,"v":1.3},{"r":18,"c":5,"v":0.2},{"r":18,"c":6,"v":-0.3},{"r":18,"c":7,"v":0.1},{"r":18,"c":8,"v":-1.4},{"r":18,"c":9,"v":-2},{"r":18,"c":10,"v":-2.1},{"r":18,"c":11,"v":-2.1},{"r":18,"c":12,"v":-1.9},{"r":18,"c":13,"v":-1.8},{"r":18,"c":14,"v":-2},{"r":18,"c":15,"v":-2.1},{"r":18,"c":16,"v":-2.2},{"r":18,"c":17,"v":-2.2},{"r":18,"c":18,"v":-2},{"r":18,"c":19,"v":-1.8},{"r":18,"c":20,"v":-1.6},{"r":18,"c":21,"v":-1.6},{"r":18,"c":22,"v":0.2},{"r":18,"c":23,"v":-0.2},{"r":18,"c":24,"v":-0.3},{"r":18,"c":25,"v":-0.2},{"r":18,"c":26,"v":0.1},{"r":18,"c":27,"v":0.3},{"r":18,"c":28,"v":0}],
"cd":[
{"r":1,"c":1,"v":-1.6},{"r":1,"c":2,"v":-1.8},{"r":1,"c":3,"v":-0.5},{"r":1,"c":4,"v":-0.2},{"r":1,"c":5,"v":-1.6},{"r":1,"c":6,"v":-1.7},{"r":1,"c":7,"v":-1.4},{"r":1,"c":8,"v":-1.8},{"r":1,"c":9,"v":-2},{"r":1,"c":10,"v":-1.6},{"r":1,"c":11,"v":-1.4},{"r":1,"c":12,"v":-1.6},{"r":1,"c":13,"v":-1.7},{"r":1,"c":14,"v":-0.6},{"r":1,"c":15,"v":1.6},{"r":1,"c":16,"v":1.8},{"r":1,"c":17,"v":1.7},{"r":1,"c":18,"v":1.3},{"r":1,"c":19,"v":-0.1},{"r":1,"c":20,"v":-0.5},{"r":1,"c":21,"v":1.6},{"r":1,"c":22,"v":1.8},{"r":1,"c":23,"v":1.7},{"r":1,"c":24,"v":1.9},{"r":1,"c":25,"v":1.8},{"r":1,"c":26,"v":1.7},{"r":1,"c":27,"v":1.6},{"r":1,"c":28,"v":1.5},
{"r":2,"c":1,"v":-1.7},{"r":2,"c":2,"v":-2},{"r":2,"c":3,"v":-0.8},{"r":2,"c":4,"v":-0.4},{"r":2,"c":5,"v":-1.5},{"r":2,"c":6,"v":-1.9},{"r":2,"c":7,"v":-1.6},{"r":2,"c":8,"v":-2},{"r":2,"c":9,"v":-2.1},{"r":2,"c":10,"v":-1.8},{"r":2,"c":11,"v":-1.5},{"r":2,"c":12,"v":-1.7},{"r":2,"c":13,"v":-1.9},{"r":2,"c":14,"v":-0.7},{"r":2,"c":15,"v":1.4},{"r":2,"c":16,"v":1.7},{"r":2,"c":17,"v":1.6},{"r":2,"c":18,"v":1.1},{"r":2,"c":19,"v":-0.2},{"r":2,"c":20,"v":-0.6},{"r":2,"c":21,"v":1.9},{"r":2,"c":22,"v":2.3},{"r":2,"c":23,"v":2.5},{"r":2,"c":24,"v":2.6},{"r":2,"c":25,"v":2.6},{"r":2,"c":26,"v":2.5},{"r":2,"c":27,"v":2.1},{"r":2,"c":28,"v":1.6},
{"r":3,"c":1,"v":-1.4},{"r":3,"c":2,"v":-1.7},{"r":3,"c":3,"v":-0.6},{"r":3,"c":4,"v":-0.2},{"r":3,"c":5,"v":-1.3},{"r":3,"c":6,"v":-1.6},{"r":3,"c":7,"v":-1.4},{"r":3,"c":8,"v":-1.7},{"r":3,"c":9,"v":-1.9},{"r":3,"c":10,"v":-1.5},{"r":3,"c":11,"v":-1.3},{"r":3,"c":12,"v":-1.5},{"r":3,"c":13,"v":-1.6},{"r":3,"c":14,"v":-0.5},{"r":3,"c":15,"v":1.3},{"r":3,"c":16,"v":1.5},{"r":3,"c":17,"v":1.4},{"r":3,"c":18,"v":1},{"r":3,"c":19,"v":-0.3},{"r":3,"c":20,"v":-0.5},{"r":3,"c":21,"v":0.8},{"r":3,"c":22,"v":1},{"r":3,"c":23,"v":1.4},{"r":3,"c":24,"v":1.5},{"r":3,"c":25,"v":1.4},{"r":3,"c":26,"v":1.3},{"r":3,"c":27,"v":1.2},{"r":3,"c":28,"v":0.9},
{"r":4,"c":1,"v":0.6},{"r":4,"c":2,"v":0.3},{"r":4,"c":3,"v":-0.5},{"r":4,"c":4,"v":-1},{"r":4,"c":5,"v":-0.8},{"r":4,"c":6,"v":-0.6},{"r":4,"c":7,"v":0.3},{"r":4,"c":8,"v":-0.8},{"r":4,"c":9,"v":-1.2},{"r":4,"c":10,"v":-1.4},{"r":4,"c":11,"v":-1.7},{"r":4,"c":12,"v":-1.8},{"r":4,"c":13,"v":-1.6},{"r":4,"c":14,"v":-0.4},{"r":4,"c":15,"v":0.7},{"r":4,"c":16,"v":0.9},{"r":4,"c":17,"v":0.6},{"r":4,"c":18,"v":0.5},{"r":4,"c":19,"v":1.8},{"r":4,"c":20,"v":0.5},{"r":4,"c":21,"v":1.5},{"r":4,"c":22,"v":1.6},{"r":4,"c":23,"v":1.7},{"r":4,"c":24,"v":1.8},{"r":4,"c":25,"v":1.6},{"r":4,"c":26,"v":1.5},{"r":4,"c":27,"v":1.5},{"r":4,"c":28,"v":1.2},
{"r":5,"c":1,"v":0.2},{"r":5,"c":2,"v":-0.2},{"r":5,"c":3,"v":-0.8},{"r":5,"c":4,"v":-1.1},{"r":5,"c":5,"v":-1},{"r":5,"c":6,"v":-0.8},{"r":5,"c":7,"v":-0.2},{"r":5,"c":8,"v":-1},{"r":5,"c":9,"v":-1.3},{"r":5,"c":10,"v":-1.4},{"r":5,"c":11,"v":-1.8},{"r":5,"c":12,"v":-1.9},{"r":5,"c":13,"v":-1.7},{"r":5,"c":14,"v":-0.6},{"r":5,"c":15,"v":0.5},{"r":5,"c":16,"v":0.7},{"r":5,"c":17,"v":0.5},{"r":5,"c":18,"v":0.4},{"r":5,"c":19,"v":1.7},{"r":5,"c":20,"v":0.4},{"r":5,"c":21,"v":1.4},{"r":5,"c":22,"v":1.5},{"r":5,"c":23,"v":1.6},{"r":5,"c":24,"v":1.7},{"r":5,"c":25,"v":1.6},{"r":5,"c":26,"v":1.4},{"r":5,"c":27,"v":1.3},{"r":5,"c":28,"v":0.9},
{"r":6,"c":1,"v":-0.2},{"r":6,"c":2,"v":-0.4},{"r":6,"c":3,"v":-0.9},{"r":6,"c":4,"v":-0.7},{"r":6,"c":5,"v":-0.5},{"r":6,"c":6,"v":-0.7},{"r":6,"c":7,"v":-0.3},{"r":6,"c":8,"v":-0.9},{"r":6,"c":9,"v":-1.1},{"r":6,"c":10,"v":-1.3},{"r":6,"c":11,"v":-1.6},{"r":6,"c":12,"v":-1.7},{"r":6,"c":13,"v":-1.5},{"r":6,"c":14,"v":-0.7},{"r":6,"c":15,"v":0.3},{"r":6,"c":16,"v":0.5},{"r":6,"c":17,"v":0.3},{"r":6,"c":18,"v":0.2},{"r":6,"c":19,"v":1.5},{"r":6,"c":20,"v":0.3},{"r":6,"c":21,"v":0.7},{"r":6,"c":22,"v":0.9},{"r":6,"c":23,"v":0.5},{"r":6,"c":24,"v":0.8},{"r":6,"c":25,"v":0.9},{"r":6,"c":26,"v":0.7},{"r":6,"c":27,"v":0.9},{"r":6,"c":28,"v":0.6},
{"r":7,"c":1,"v":1.2},{"r":7,"c":2,"v":1.6},{"r":7,"c":3,"v":0.7},{"r":7,"c":4,"v":1},{"r":7,"c":5,"v":2.4},{"r":7,"c":6,"v":2.6},{"r":7,"c":7,"v":2.2},{"r":7,"c":8,"v":1.3},{"r":7,"c":9,"v":-0.3},{"r":7,"c":10,"v":-1},{"r":7,"c":11,"v":0.5},{"r":7,"c":12,"v":0.8},{"r":7,"c":13,"v":-0.2},{"r":7,"c":14,"v":0.6},{"r":7,"c":15,"v":-0.4},{"r":7,"c":16,"v":0.5},{"r":7,"c":17,"v":-0.7},{"r":7,"c":18,"v":0.7},{"r":7,"c":19,"v":0.9},{"r":7,"c":20,"v":0.2},{"r":7,"c":21,"v":-1.8},{"r":7,"c":22,"v":-2.2},{"r":7,"c":23,"v":-2.3},{"r":7,"c":24,"v":-2.1},{"r":7,"c":25,"v":-2.2},{"r":7,"c":26,"v":-2.3},{"r":7,"c":27,"v":-2},{"r":7,"c":28,"v":-1.9},
{"r":8,"c":1,"v":1.3},{"r":8,"c":2,"v":1.7},{"r":8,"c":3,"v":0.2},{"r":8,"c":4,"v":1.4},{"r":8,"c":5,"v":2.6},{"r":8,"c":6,"v":2.8},{"r":8,"c":7,"v":2.4},{"r":8,"c":8,"v":1.4},{"r":8,"c":9,"v":-0.2},{"r":8,"c":10,"v":-1.1},{"r":8,"c":11,"v":0.4},{"r":8,"c":12,"v":0.6},{"r":8,"c":13,"v":-0.3},{"r":8,"c":14,"v":-0.5},{"r":8,"c":15,"v":-0.6},{"r":8,"c":16,"v":0.3},{"r":8,"c":17,"v":-0.9},{"r":8,"c":18,"v":0.3},{"r":8,"c":19,"v":0.8},{"r":8,"c":20,"v":0.1},{"r":8,"c":21,"v":-2},{"r":8,"c":22,"v":-2.4},{"r":8,"c":23,"v":-2.5},{"r":8,"c":24,"v":-2.3},{"r":8,"c":25,"v":-2.2},{"r":8,"c":26,"v":-2.4},{"r":8,"c":27,"v":-2.1},{"r":8,"c":28,"v":-2},
{"r":9,"c":1,"v":1},{"r":9,"c":2,"v":1.5},{"r":9,"c":3,"v":1.1},{"r":9,"c":4,"v":1.8},{"r":9,"c":5,"v":2.8},{"r":9,"c":6,"v":2.9},{"r":9,"c":7,"v":2.5},{"r":9,"c":8,"v":1.5},{"r":9,"c":9,"v":-0.1},{"r":9,"c":10,"v":-1.2},{"r":9,"c":11,"v":0.3},{"r":9,"c":12,"v":0.5},{"r":9,"c":13,"v":-0.4},{"r":9,"c":14,"v":-0.6},{"r":9,"c":15,"v":-0.3},{"r":9,"c":16,"v":0.2},{"r":9,"c":17,"v":-0.8},{"r":9,"c":18,"v":0.1},{"r":9,"c":19,"v":0.6},{"r":9,"c":20,"v":0.1},{"r":9,"c":21,"v":-1.9},{"r":9,"c":22,"v":-2.3},{"r":9,"c":23,"v":-2.4},{"r":9,"c":24,"v":-2.4},{"r":9,"c":25,"v":-2.3},{"r":9,"c":26,"v":-2.2},{"r":9,"c":27,"v":-2},{"r":9,"c":28,"v":-1.8},
{"r":10,"c":1,"v":0.6},{"r":10,"c":2,"v":0.9},{"r":10,"c":3,"v":0.3},{"r":10,"c":4,"v":-0.2},{"r":10,"c":5,"v":0.7},{"r":10,"c":6,"v":0.4},{"r":10,"c":7,"v":-0.8},{"r":10,"c":8,"v":-1},{"r":10,"c":9,"v":-1.2},{"r":10,"c":10,"v":-0.9},{"r":10,"c":11,"v":-1.1},{"r":10,"c":12,"v":-0.6},{"r":10,"c":13,"v":-0.9},{"r":10,"c":14,"v":0.2},{"r":10,"c":15,"v":0.7},{"r":10,"c":16,"v":0.5},{"r":10,"c":17,"v":1},{"r":10,"c":18,"v":0.4},{"r":10,"c":19,"v":0.7},{"r":10,"c":20,"v":0.2},{"r":10,"c":21,"v":-0.6},{"r":10,"c":22,"v":-0.8},{"r":10,"c":23,"v":-0.5},{"r":10,"c":24,"v":-1},{"r":10,"c":25,"v":-0.9},{"r":10,"c":26,"v":-0.7},{"r":10,"c":27,"v":-0.5},{"r":10,"c":28,"v":0.1},
{"r":11,"c":1,"v":0.4},{"r":11,"c":2,"v":0.8},{"r":11,"c":3,"v":0.1},{"r":11,"c":4,"v":-0.3},{"r":11,"c":5,"v":0.5},{"r":11,"c":6,"v":0.3},{"r":11,"c":7,"v":-0.9},{"r":11,"c":8,"v":-1.1},{"r":11,"c":9,"v":-1},{"r":11,"c":10,"v":-0.8},{"r":11,"c":11,"v":-1.2},{"r":11,"c":12,"v":-0.5},{"r":11,"c":13,"v":-0.8},{"r":11,"c":14,"v":0.3},{"r":11,"c":15,"v":0.5},{"r":11,"c":16,"v":0.4},{"r":11,"c":17,"v":0.8},{"r":11,"c":18,"v":0.5},{"r":11,"c":19,"v":0.8},{"r":11,"c":20,"v":0.1},{"r":11,"c":21,"v":-0.7},{"r":11,"c":22,"v":-0.9},{"r":11,"c":23,"v":-0.6},{"r":11,"c":24,"v":-0.9},{"r":11,"c":25,"v":-0.8},{"r":11,"c":26,"v":-0.8},{"r":11,"c":27,"v":-0.4},{"r":11,"c":28,"v":-0.1},
{"r":12,"c":1,"v":0.5},{"r":12,"c":2,"v":0.7},{"r":12,"c":3,"v":-0.2},{"r":12,"c":4,"v":-0.5},{"r":12,"c":5,"v":0.4},{"r":12,"c":6,"v":0.1},{"r":12,"c":7,"v":-1},{"r":12,"c":8,"v":-1.2},{"r":12,"c":9,"v":-0.9},{"r":12,"c":10,"v":-0.6},{"r":12,"c":11,"v":-0.8},{"r":12,"c":12,"v":-0.3},{"r":12,"c":13,"v":-0.7},{"r":12,"c":14,"v":0.2},{"r":12,"c":15,"v":0.6},{"r":12,"c":16,"v":0.3},{"r":12,"c":17,"v":0.9},{"r":12,"c":18,"v":0.6},{"r":12,"c":19,"v":0.5},{"r":12,"c":20,"v":0},{"r":12,"c":21,"v":-0.4},{"r":12,"c":22,"v":-0.6},{"r":12,"c":23,"v":-0.3},{"r":12,"c":24,"v":-0.8},{"r":12,"c":25,"v":-0.5},{"r":12,"c":26,"v":-0.6},{"r":12,"c":27,"v":-0.3},{"r":12,"c":28,"v":0.2},
{"r":13,"c":1,"v":1},{"r":13,"c":2,"v":0.7},{"r":13,"c":3,"v":0.1},{"r":13,"c":4,"v":-0.4},{"r":13,"c":5,"v":0.6},{"r":13,"c":6,"v":1.4},{"r":13,"c":7,"v":1.6},{"r":13,"c":8,"v":1.5},{"r":13,"c":9,"v":1},{"r":13,"c":10,"v":1.3},{"r":13,"c":11,"v":1.4},{"r":13,"c":12,"v":0.7},{"r":13,"c":13,"v":0.1},{"r":13,"c":14,"v":0.7},{"r":13,"c":15,"v":0.4},{"r":13,"c":16,"v":0.2},{"r":13,"c":17,"v":0.1},{"r":13,"c":18,"v":0.5},{"r":13,"c":19,"v":0.3},{"r":13,"c":20,"v":0.2},{"r":13,"c":21,"v":-0.8},{"r":13,"c":22,"v":-0.4},{"r":13,"c":23,"v":-1},{"r":13,"c":24,"v":-0.7},{"r":13,"c":25,"v":-0.9},{"r":13,"c":26,"v":-1.2},{"r":13,"c":27,"v":-1.1},{"r":13,"c":28,"v":-1.2},
{"r":14,"c":1,"v":0.7},{"r":14,"c":2,"v":0.4},{"r":14,"c":3,"v":0.3},{"r":14,"c":4,"v":-0.6},{"r":14,"c":5,"v":0.2},{"r":14,"c":6,"v":0.8},{"r":14,"c":7,"v":0.9},{"r":14,"c":8,"v":0.7},{"r":14,"c":9,"v":0.7},{"r":14,"c":10,"v":0.9},{"r":14,"c":11,"v":0.6},{"r":14,"c":12,"v":0.3},{"r":14,"c":13,"v":-0.3},{"r":14,"c":14,"v":0.2},{"r":14,"c":15,"v":-0.2},{"r":14,"c":16,"v":-0.5},{"r":14,"c":17,"v":-0.6},{"r":14,"c":18,"v":-0.3},{"r":14,"c":19,"v":0.1},{"r":14,"c":20,"v":0},{"r":14,"c":21,"v":-0.9},{"r":14,"c":22,"v":-1.2},{"r":14,"c":23,"v":-1.3},{"r":14,"c":24,"v":-1.2},{"r":14,"c":25,"v":-1},{"r":14,"c":26,"v":-1.4},{"r":14,"c":27,"v":-1.4},{"r":14,"c":28,"v":-1.3},
{"r":15,"c":1,"v":0.8},{"r":15,"c":2,"v":0.5},{"r":15,"c":3,"v":0.2},{"r":15,"c":4,"v":-0.5},{"r":15,"c":5,"v":0.3},{"r":15,"c":6,"v":0.9},{"r":15,"c":7,"v":1},{"r":15,"c":8,"v":0.8},{"r":15,"c":9,"v":0.6},{"r":15,"c":10,"v":1},{"r":15,"c":11,"v":0.5},{"r":15,"c":12,"v":0.2},{"r":15,"c":13,"v":-0.4},{"r":15,"c":14,"v":0.1},{"r":15,"c":15,"v":-0.4},{"r":15,"c":16,"v":-0.7},{"r":15,"c":17,"v":-0.8},{"r":15,"c":18,"v":-0.5},{"r":15,"c":19,"v":0.2},{"r":15,"c":20,"v":0.1},{"r":15,"c":21,"v":-0.7},{"r":15,"c":22,"v":-1.3},{"r":15,"c":23,"v":-1.4},{"r":15,"c":24,"v":-1.5},{"r":15,"c":25,"v":-1.4},{"r":15,"c":26,"v":-1.5},{"r":15,"c":27,"v":-1.6},{"r":15,"c":28,"v":-1.6},
{"r":16,"c":1,"v":-1.9},{"r":16,"c":2,"v":-2},{"r":16,"c":3,"v":-1.2},{"r":16,"c":4,"v":-1.7},{"r":16,"c":5,"v":-1.8},{"r":16,"c":6,"v":-1},{"r":16,"c":7,"v":-0.6},{"r":16,"c":8,"v":0.1},{"r":16,"c":9,"v":-0.3},{"r":16,"c":10,"v":0.4},{"r":16,"c":11,"v":1.8},{"r":16,"c":12,"v":2},{"r":16,"c":13,"v":1.9},{"r":16,"c":14,"v":1.5},{"r":16,"c":15,"v":-2},{"r":16,"c":16,"v":-2.3},{"r":16,"c":17,"v":-2.4},{"r":16,"c":18,"v":-2},{"r":16,"c":19,"v":-0.4},{"r":16,"c":20,"v":-0.3},{"r":16,"c":21,"v":1.6},{"r":16,"c":22,"v":0.9},{"r":16,"c":23,"v":1},{"r":16,"c":24,"v":0.5},{"r":16,"c":25,"v":0.3},{"r":16,"c":26,"v":0.5},{"r":16,"c":27,"v":0.8},{"r":16,"c":28,"v":0.4},
{"r":17,"c":1,"v":-1.8},{"r":17,"c":2,"v":-1.9},{"r":17,"c":3,"v":-1.4},{"r":17,"c":4,"v":-2},{"r":17,"c":5,"v":-1.9},{"r":17,"c":6,"v":-0.8},{"r":17,"c":7,"v":-0.5},{"r":17,"c":8,"v":0.2},{"r":17,"c":9,"v":-0.4},{"r":17,"c":10,"v":0.3},{"r":17,"c":11,"v":1.6},{"r":17,"c":12,"v":1.8},{"r":17,"c":13,"v":1.7},{"r":17,"c":14,"v":1.3},{"r":17,"c":15,"v":-2.1},{"r":17,"c":16,"v":-2.5},{"r":17,"c":17,"v":-2.5},{"r":17,"c":18,"v":-2.2},{"r":17,"c":19,"v":-0.5},{"r":17,"c":20,"v":-0.4},{"r":17,"c":21,"v":2.2},{"r":17,"c":22,"v":1},{"r":17,"c":23,"v":1.1},{"r":17,"c":24,"v":0.7},{"r":17,"c":25,"v":1.3},{"r":17,"c":26,"v":1.4},{"r":17,"c":27,"v":1},{"r":17,"c":28,"v":0.6},
{"r":18,"c":1,"v":-1.7},{"r":18,"c":2,"v":-1.8},{"r":18,"c":3,"v":-1.6},{"r":18,"c":4,"v":-1.9},{"r":18,"c":5,"v":-1.7},{"r":18,"c":6,"v":-0.7},{"r":18,"c":7,"v":-0.4},{"r":18,"c":8,"v":0.1},{"r":18,"c":9,"v":-0.3},{"r":18,"c":10,"v":0.3},{"r":18,"c":11,"v":1.3},{"r":18,"c":12,"v":1.5},{"r":18,"c":13,"v":1.4},{"r":18,"c":14,"v":1.2},{"r":18,"c":15,"v":-2.1},{"r":18,"c":16,"v":-2.4},{"r":18,"c":17,"v":-2.6},{"r":18,"c":18,"v":-2.3},{"r":18,"c":19,"v":-0.6},{"r":18,"c":20,"v":-0.2},{"r":18,"c":21,"v":0.6},{"r":18,"c":22,"v":0.1},{"r":18,"c":23,"v":0.2},{"r":18,"c":24,"v":-0.2},{"r":18,"c":25,"v":-0.2},{"r":18,"c":26,"v":0.1},{"r":18,"c":27,"v":0.3},{"r":18,"c":28,"v":0.3}]
},
"bounds":"flush","spacing":331.3,
"hconcat":[
{"bounds":"flush","spacing":348.3,"vconcat":[
 {"bounds":"flush","spacing":0,"vconcat":[
  {"width":284,"height":33.3,"data":{"values":[{}]},"layer":[
   {"mark":{"type":"text","text":"A","fontSize":13,"fontWeight":"bold","color":"#222","align":"left","baseline":"alphabetic"},"encoding":{"x":{"datum":-13,"type":"quantitative","scale":{"domain":[0,284],"nice":false},"axis":null},"y":{"datum":11.6,"type":"quantitative","scale":{"domain":[33.3,0],"nice":false},"axis":null}}},
   {"mark":{"type":"text","text":".","fontSize":8,"color":"#444","align":"center","baseline":"alphabetic"},"encoding":{"x":{"datum":162,"type":"quantitative"},"y":{"datum":20.3,"type":"quantitative"}}}
  ]},
  {"bounds":"flush","spacing":0,"hconcat":[
   {"width":21,"height":1,"data":{"values":[{}]},"mark":{"type":"rect","opacity":0},"encoding":{}},
   {"width":263,"height":236,"view":{"stroke":"#777","strokeWidth":1},"data":{"name":"pts"},"mark":{"type":"circle","size":17,"opacity":1},"encoding":{
    "x":{"field":"x","type":"quantitative","scale":{"domain":[0.23022,0.23977],"nice":false,"zero":false},"axis":{"values":[0.232,0.234,0.236,0.238],"format":".3f","grid":false,"domain":false,"tickColor":"#777","tickSize":5,"labelColor":"#555","labelFontSize":8,"labelPadding":6,"title":"PC1 (98.91%)","titleFontSize":7.5,"titleFontWeight":"normal","titleColor":"#555","titlePadding":9.5}},
    "y":{"field":"y","type":"quantitative","scale":{"domain":[-0.2345,0.377],"nice":false,"zero":false},"axis":{"values":[-0.2,-0.1,0,0.1,0.2,0.3],"format":".1f","grid":false,"domain":false,"tickColor":"#777","tickSize":5,"labelColor":"#555","labelFontSize":8,"labelAngle":-90,"labelAlign":"center","labelBaseline":"bottom","labelPadding":6,"title":"PC2 (0.64%)","titleFontSize":7.5,"titleFontWeight":"normal","titleColor":"#555","titlePadding":6}},
    "color":{"field":"g","type":"nominal","scale":{"domain":["BDE−47","BDE−100+PPT","BDE−153+PPT","Control","PPT","PPT+MPP"],"range":["#00e800","#ffa500","#a020f0","#00eeff","#ffc0cb","#b03060"]},"legend":{"orient":"none","legendX":214,"legendY":33.3,"strokeColor":"#777","fillColor":"white","padding":4,"labelFontSize":7.6,"labelColor":"#444","symbolSize":14,"symbolType":"circle","labelOffset":2,"rowPadding":0,"clipHeight":9.07}}
   }}
  ]}
 ]},
 {"bounds":"flush","spacing":88.7,"vconcat":[
  {"bounds":"flush","spacing":2.3,"hconcat":[
   {"width":111,"height":85.7,"data":{"values":[{}]},"layer":[
    {"mark":{"type":"rect","fill":{"x1":0,"y1":0,"x2":1,"y2":0,"gradient":"linear","stops":[{"offset":0,"color":"#0000ff"},{"offset":0.5,"color":"#000000"},{"offset":1,"color":"#ff0000"}]}},"encoding":{"x":{"datum":-3.41,"type":"quantitative","scale":{"domain":[-7.35,8.9],"nice":false,"zero":false},"axis":{"values":[-3,-2,-1,0,1,2,3],"labelExpr":"datum.value%2!=0?datum.label:''","labelOverlap":false,"domain":false,"grid":false,"offset":-33.1,"tickSize":3,"tickColor":"#777","labelFontSize":6,"labelColor":"#444","labelPadding":5,"title":null}},"x2":{"datum":3.41},"y":{"datum":11.7,"type":"quantitative","scale":{"domain":[85.7,0],"nice":false},"axis":null},"y2":{"datum":52.7}}},
    {"mark":{"type":"text","text":"Color Key","fontSize":7,"fontWeight":"bold","color":"#333"},"encoding":{"x":{"datum":0,"type":"quantitative"},"y":{"datum":4.7,"type":"quantitative"}}},
    {"mark":{"type":"text","text":"Value","fontSize":8,"color":"#333"},"encoding":{"x":{"datum":0,"type":"quantitative"},"y":{"datum":71,"type":"quantitative"}}}
   ]},
   {"width":139,"height":85.7,"data":{"name":"tc"},"layer":[
    {"mark":{"type":"rule","color":"#808080","strokeWidth":1},"encoding":{"x":{"field":"a","type":"quantitative","scale":{"domain":[13,430],"nice":false,"zero":false},"axis":null},"y":{"field":"h","type":"quantitative","scale":{"domain":[0,257],"nice":false},"axis":null},"y2":{"field":"ha"}}},
    {"mark":{"type":"rule","color":"#808080","strokeWidth":1},"encoding":{"x":{"field":"b","type":"quantitative"},"y":{"field":"h","type":"quantitative"},"y2":{"field":"hb"}}},
    {"mark":{"type":"rule","color":"#808080","strokeWidth":1},"encoding":{"x":{"field":"a","type":"quantitative"},"x2":{"field":"b"},"y":{"field":"h","type":"quantitative"}}}
   ]}
  ]},
  {"bounds":"flush","spacing":113.3,"hconcat":[
   {"bounds":"flush","spacing":0,"hconcat":[
    {"width":80.3,"height":194.6,"data":{"name":"lc"},"layer":[
     {"mark":{"type":"rule","color":"#888","strokeWidth":0.8},"encoding":{"x":{"field":"h","type":"quantitative","scale":{"domain":[241,0],"nice":false},"axis":null},"y":{"field":"a","type":"quantitative","scale":{"domain":[18,0],"nice":false},"axis":null},"y2":{"field":"b"}}},
     {"mark":{"type":"rule","color":"#888","strokeWidth":0.8},"encoding":{"x":{"field":"h","type":"quantitative"},"x2":{"field":"ha"},"y":{"field":"a","type":"quantitative"}}},
     {"mark":{"type":"rule","color":"#888","strokeWidth":0.8},"encoding":{"x":{"field":"h","type":"quantitative"},"x2":{"field":"hb"},"y":{"field":"b","type":"quantitative"}}}
    ]},
    {"width":30.7,"height":194.6,"data":{"name":"rc"},"layer":[
     {"transform":[{"filter":"!(datum.g==='BDE−100+PPT'||datum.g==='PPT')"}],"mark":{"type":"rect","fill":"#000","stroke":"#000","strokeWidth":0.4},"encoding":{"x":{"datum":"a","type":"nominal","scale":{"type":"band","domain":["a","b"],"paddingInner":0,"paddingOuter":0},"axis":null},"y":{"field":"r","type":"ordinal","scale":{"type":"band","domain":[1,2,3,4,5,6,7,8,9,10,11,12,13,14,15,16,17,18],"paddingInner":0,"paddingOuter":0},"axis":null}}},
     {"transform":[{"filter":"datum.g==='BDE−100+PPT'||datum.g==='PPT'"}],"mark":{"type":"rect","strokeWidth":0.4},"encoding":{"x":{"datum":"a","type":"nominal"},"y":{"field":"r","type":"ordinal"},"fill":{"field":"g","type":"nominal"},"stroke":{"field":"g","type":"nominal","scale":{"domain":["BDE−47","BDE−100+PPT","BDE−153+PPT","Control","PPT","PPT+MPP"],"range":["#00ff00","#ffa500","#a020f0","#00ffff","#ffc0cb","#b03060"]},"legend":null}}},
     {"mark":{"type":"rect","strokeWidth":0.4},"encoding":{"x":{"datum":"b","type":"nominal"},"y":{"field":"r","type":"ordinal"},"stroke":{"field":"g","type":"nominal","legend":null},"fill":{"field":"g","type":"nominal","scale":{"domain":["BDE−47","BDE−100+PPT","BDE−153+PPT","Control","PPT","PPT+MPP"],"range":["#00ff00","#ffa500","#a020f0","#00ffff","#ffc0cb","#b03060"]},"legend":{"orient":"none","legendX":271.3,"legendY":-52.4,"strokeColor":"#777","fillColor":"white","padding":3,"labelFontSize":4.6,"labelColor":"#444","symbolSize":10,"symbolType":"square","symbolStrokeWidth":0,"labelOffset":2.5,"rowPadding":0,"clipHeight":5.8}}}}
    ]}
   ]},
   {"width":139,"height":194.6,"title":{"text":"BDE-100+PPT","orient":"bottom","font":"Lato","fontSize":13.5,"fontWeight":"normal","color":"#222","offset":8.5},"resolve":{"scale":{"x":"independent","y":"independent"}},"layer":[
    {"data":{"name":"cc"},"mark":{"type":"rect","strokeWidth":0.6},"encoding":{"x":{"field":"c","type":"ordinal","scale":{"type":"band","paddingInner":0,"paddingOuter":0},"axis":null},"y":{"field":"r","type":"ordinal","scale":{"type":"band","paddingInner":0,"paddingOuter":0},"axis":null},"fill":{"field":"v","type":"quantitative","scale":{"domain":[-3.41,0,3.41],"range":["#0000ff","#000000","#ff0000"],"interpolate":"rgb"},"legend":null},"stroke":{"field":"v","type":"quantitative","scale":{"domain":[-3.41,0,3.41],"range":["#0000ff","#000000","#ff0000"],"interpolate":"rgb"},"legend":null}}},
    {"data":{"name":"bc"},"mark":{"type":"rect","fill":null,"strokeWidth":1},"encoding":{"x":{"field":"a","type":"quantitative","scale":{"domain":[0,28],"nice":false},"axis":null},"x2":{"field":"b"},"y":{"field":"t","type":"quantitative","scale":{"domain":[18,0],"nice":false},"axis":null},"y2":{"field":"u"},"stroke":{"field":"k","type":"nominal","scale":{"domain":["up","down"],"range":["#d9ae2c","#d8d0e0"]},"legend":null}}},
    {"data":{"name":"rc"},"mark":{"type":"text","align":"left","dx":3,"fontSize":5.3,"color":"#444"},"encoding":{"x":{"datum":1,"type":"quantitative","scale":{"domain":[0,1]},"axis":null},"y":{"field":"r","type":"ordinal","scale":{"type":"band","paddingInner":0,"paddingOuter":0},"axis":null},"text":{"field":"label"}}}
   ]}
  ]}
 ]}
]},
{"bounds":"flush","spacing":348.3,"vconcat":[
 {"bounds":"flush","spacing":88.6,"vconcat":[
  {"bounds":"flush","spacing":2.7,"hconcat":[
   {"width":111,"height":86,"data":{"values":[{}]},"layer":[
    {"mark":{"type":"rect","fill":{"x1":0,"y1":0,"x2":1,"y2":0,"gradient":"linear","stops":[{"offset":0,"color":"#0000ff"},{"offset":0.5,"color":"#000000"},{"offset":1,"color":"#ff0000"}]}},"encoding":{"x":{"datum":-3.25,"type":"quantitative","scale":{"domain":[-6.97,8.51],"nice":false,"zero":false},"axis":{"values":[-3,-2,-1,0,1,2,3],"labelExpr":"datum.value%2!=0?datum.label:''","labelOverlap":false,"domain":false,"grid":false,"offset":-33.4,"tickSize":3,"tickColor":"#777","labelFontSize":6,"labelColor":"#444","labelPadding":5,"title":null}},"x2":{"datum":3.25},"y":{"datum":11.6,"type":"quantitative","scale":{"domain":[86,0],"nice":false},"axis":null},"y2":{"datum":52.6}}},
    {"mark":{"type":"text","text":"Color Key","fontSize":7,"fontWeight":"bold","color":"#333"},"encoding":{"x":{"datum":0,"type":"quantitative"},"y":{"datum":4.7,"type":"quantitative"}}},
    {"mark":{"type":"text","text":"Value","fontSize":8,"color":"#333"},"encoding":{"x":{"datum":0,"type":"quantitative"},"y":{"datum":70.6,"type":"quantitative"}}},
    {"mark":{"type":"text","text":"B","fontSize":13,"fontWeight":"bold","color":"#222","align":"left","baseline":"alphabetic"},"encoding":{"x":{"datum":-7.43,"type":"quantitative"},"y":{"datum":11.3,"type":"quantitative"}}}
   ]},
   {"width":139,"height":86,"layer":[
    {"data":{"name":"mass"},"mark":{"type":"area","color":"#000"},"encoding":{"x":{"field":"a","type":"quantitative","scale":{"domain":[363,780],"nice":false,"zero":false},"axis":null},"y":{"field":"h","type":"quantitative","scale":{"domain":[0,258],"nice":false},"axis":null}}},
    {"data":{"name":"tb"},"mark":{"type":"rule","color":"#777","strokeWidth":0.8},"encoding":{"x":{"field":"a","type":"quantitative"},"y":{"field":"h","type":"quantitative"},"y2":{"field":"ha"}}},
    {"data":{"name":"tb"},"mark":{"type":"rule","color":"#777","strokeWidth":0.8},"encoding":{"x":{"field":"b","type":"quantitative"},"y":{"field":"h","type":"quantitative"},"y2":{"field":"hb"}}},
    {"data":{"name":"tb"},"mark":{"type":"rule","color":"#777","strokeWidth":0.8},"encoding":{"x":{"field":"a","type":"quantitative"},"x2":{"field":"b"},"y":{"field":"h","type":"quantitative"}}}
   ]}
  ]},
  {"bounds":"flush","spacing":113.7,"hconcat":[
   {"bounds":"flush","spacing":0,"hconcat":[
    {"width":80.4,"height":195,"data":{"name":"lb"},"layer":[
     {"mark":{"type":"rule","color":"#888","strokeWidth":0.8},"encoding":{"x":{"field":"h","type":"quantitative","scale":{"domain":[241,0],"nice":false},"axis":null},"y":{"field":"a","type":"quantitative","scale":{"domain":[18,0],"nice":false},"axis":null},"y2":{"field":"b"}}},
     {"mark":{"type":"rule","color":"#888","strokeWidth":0.8},"encoding":{"x":{"field":"h","type":"quantitative"},"x2":{"field":"ha"},"y":{"field":"a","type":"quantitative"}}},
     {"mark":{"type":"rule","color":"#888","strokeWidth":0.8},"encoding":{"x":{"field":"h","type":"quantitative"},"x2":{"field":"hb"},"y":{"field":"b","type":"quantitative"}}}
    ]},
    {"width":30.6,"height":195,"data":{"name":"rb"},"layer":[
     {"transform":[{"filter":"!(datum.g==='BDE−47'||datum.g==='Control')"}],"mark":{"type":"rect","fill":"#000","stroke":"#000","strokeWidth":0.4},"encoding":{"x":{"datum":"a","type":"nominal","scale":{"type":"band","domain":["a","b"],"paddingInner":0,"paddingOuter":0},"axis":null},"y":{"field":"r","type":"ordinal","scale":{"type":"band","domain":[1,2,3,4,5,6,7,8,9,10,11,12,13,14,15,16,17,18],"paddingInner":0,"paddingOuter":0},"axis":null}}},
     {"transform":[{"filter":"datum.g==='BDE−47'||datum.g==='Control'"}],"mark":{"type":"rect","strokeWidth":0.4},"encoding":{"x":{"datum":"a","type":"nominal"},"y":{"field":"r","type":"ordinal"},"fill":{"field":"g","type":"nominal"},"stroke":{"field":"g","type":"nominal","scale":{"domain":["BDE−47","BDE−100+PPT","BDE−153+PPT","Control","PPT","PPT+MPP"],"range":["#00ff00","#ffa500","#a020f0","#00ffff","#ffc0cb","#b03060"]},"legend":null}}},
     {"mark":{"type":"rect","strokeWidth":0.4},"encoding":{"x":{"datum":"b","type":"nominal"},"y":{"field":"r","type":"ordinal"},"stroke":{"field":"g","type":"nominal","legend":null},"fill":{"field":"g","type":"nominal","scale":{"domain":["BDE−47","BDE−100+PPT","BDE−153+PPT","Control","PPT","PPT+MPP"],"range":["#00ff00","#ffa500","#a020f0","#00ffff","#ffc0cb","#b03060"]},"legend":{"orient":"none","legendX":271.7,"legendY":-52.3,"strokeColor":"#777","fillColor":"white","padding":3,"labelFontSize":4.6,"labelColor":"#444","symbolSize":10,"symbolType":"square","symbolStrokeWidth":0,"labelOffset":2.5,"rowPadding":0,"clipHeight":5.8}}}}
    ]}
   ]},
   {"width":139,"height":195,"title":{"text":"BDE-47","orient":"bottom","font":"Lato","fontSize":13.5,"fontWeight":"normal","color":"#222","offset":11},"resolve":{"scale":{"x":"independent","y":"independent"}},"layer":[
    {"data":{"name":"cb"},"mark":{"type":"rect","strokeWidth":0.6},"encoding":{"x":{"field":"c","type":"ordinal","scale":{"type":"band","paddingInner":0,"paddingOuter":0},"axis":null},"y":{"field":"r","type":"ordinal","scale":{"type":"band","paddingInner":0,"paddingOuter":0},"axis":null},"fill":{"field":"v","type":"quantitative","scale":{"domain":[-3.25,0,3.25],"range":["#0000ff","#000000","#ff0000"],"interpolate":"rgb"},"legend":null},"stroke":{"field":"v","type":"quantitative","scale":{"domain":[-3.25,0,3.25],"range":["#0000ff","#000000","#ff0000"],"interpolate":"rgb"},"legend":null}}},
    {"data":{"name":"bb"},"mark":{"type":"rect","fill":null,"strokeWidth":1},"encoding":{"x":{"field":"a","type":"quantitative","scale":{"domain":[0,15],"nice":false},"axis":null},"x2":{"field":"b"},"y":{"field":"t","type":"quantitative","scale":{"domain":[18,0],"nice":false},"axis":null},"y2":{"field":"u"},"stroke":{"field":"k","type":"nominal","scale":{"domain":["up","down"],"range":["#d9ae2c","#d8d0e0"]},"legend":null}}},
    {"data":{"name":"rb"},"mark":{"type":"text","align":"left","dx":3,"fontSize":5.3,"color":"#444"},"encoding":{"x":{"datum":1,"type":"quantitative","scale":{"domain":[0,1]},"axis":null},"y":{"field":"r","type":"ordinal","scale":{"type":"band","paddingInner":0,"paddingOuter":0},"axis":null},"text":{"field":"label"}}}
   ]}
  ]}
 ]},
 {"bounds":"flush","spacing":89,"vconcat":[
  {"bounds":"flush","spacing":3.3,"hconcat":[
   {"width":112.7,"height":86,"data":{"values":[{}]},"layer":[
    {"mark":{"type":"rect","fill":{"x1":0,"y1":0,"x2":1,"y2":0,"gradient":"linear","stops":[{"offset":0,"color":"#0000ff"},{"offset":0.5,"color":"#000000"},{"offset":1,"color":"#ff0000"}]}},"encoding":{"x":{"datum":-2.66,"type":"quantitative","scale":{"domain":[-5.93,6.92],"nice":false,"zero":false},"axis":{"values":[-2,-1,0,1,2],"labelExpr":"datum.value==-1?'':datum.label","labelOverlap":false,"domain":false,"grid":false,"offset":-33.4,"tickSize":3,"tickColor":"#777","labelFontSize":6,"labelColor":"#444","labelPadding":5,"title":null}},"x2":{"datum":2.66},"y":{"datum":11.7,"type":"quantitative","scale":{"domain":[86,0],"nice":false},"axis":null},"y2":{"datum":52.7}}},
    {"mark":{"type":"text","text":"Color Key","fontSize":7,"fontWeight":"bold","color":"#333"},"encoding":{"x":{"datum":0,"type":"quantitative"},"y":{"datum":4.7,"type":"quantitative"}}},
    {"mark":{"type":"text","text":"Value","fontSize":8,"color":"#333"},"encoding":{"x":{"datum":0,"type":"quantitative"},"y":{"datum":71,"type":"quantitative"}}}
   ]},
   {"width":138.4,"height":86,"data":{"name":"td"},"layer":[
    {"mark":{"type":"rule","color":"#808080","strokeWidth":1},"encoding":{"x":{"field":"a","type":"quantitative","scale":{"domain":[10,425],"nice":false,"zero":false},"axis":null},"y":{"field":"h","type":"quantitative","scale":{"domain":[0,257],"nice":false},"axis":null},"y2":{"field":"ha"}}},
    {"mark":{"type":"rule","color":"#808080","strokeWidth":1},"encoding":{"x":{"field":"b","type":"quantitative"},"y":{"field":"h","type":"quantitative"},"y2":{"field":"hb"}}},
    {"mark":{"type":"rule","color":"#808080","strokeWidth":1},"encoding":{"x":{"field":"a","type":"quantitative"},"x2":{"field":"b"},"y":{"field":"h","type":"quantitative"}}}
   ]}
  ]},
  {"bounds":"flush","spacing":116,"hconcat":[
   {"bounds":"flush","spacing":0,"hconcat":[
    {"width":82.7,"height":194.7,"data":{"name":"ld"},"layer":[
     {"mark":{"type":"rule","color":"#888","strokeWidth":0.8},"encoding":{"x":{"field":"h","type":"quantitative","scale":{"domain":[248,0],"nice":false},"axis":null},"y":{"field":"a","type":"quantitative","scale":{"domain":[18,0],"nice":false},"axis":null},"y2":{"field":"b"}}},
     {"mark":{"type":"rule","color":"#888","strokeWidth":0.8},"encoding":{"x":{"field":"h","type":"quantitative"},"x2":{"field":"ha"},"y":{"field":"a","type":"quantitative"}}},
     {"mark":{"type":"rule","color":"#888","strokeWidth":0.8},"encoding":{"x":{"field":"h","type":"quantitative"},"x2":{"field":"hb"},"y":{"field":"b","type":"quantitative"}}}
    ]},
    {"width":30,"height":194.7,"data":{"name":"rd"},"layer":[
     {"transform":[{"filter":"!(datum.g==='BDE−153+PPT'||datum.g==='PPT')"}],"mark":{"type":"rect","fill":"#000","stroke":"#000","strokeWidth":0.4},"encoding":{"x":{"datum":"a","type":"nominal","scale":{"type":"band","domain":["a","b"],"paddingInner":0,"paddingOuter":0},"axis":null},"y":{"field":"r","type":"ordinal","scale":{"type":"band","domain":[1,2,3,4,5,6,7,8,9,10,11,12,13,14,15,16,17,18],"paddingInner":0,"paddingOuter":0},"axis":null}}},
     {"transform":[{"filter":"datum.g==='BDE−153+PPT'||datum.g==='PPT'"}],"mark":{"type":"rect","strokeWidth":0.4},"encoding":{"x":{"datum":"a","type":"nominal"},"y":{"field":"r","type":"ordinal"},"fill":{"field":"g","type":"nominal"},"stroke":{"field":"g","type":"nominal","scale":{"domain":["BDE−47","BDE−100+PPT","BDE−153+PPT","Control","PPT","PPT+MPP"],"range":["#00ff00","#ffa500","#a020f0","#00ffff","#ffc0cb","#b03060"]},"legend":null}}},
     {"mark":{"type":"rect","strokeWidth":0.4},"encoding":{"x":{"datum":"b","type":"nominal"},"y":{"field":"r","type":"ordinal"},"stroke":{"field":"g","type":"nominal","legend":null},"fill":{"field":"g","type":"nominal","scale":{"domain":["BDE−47","BDE−100+PPT","BDE−153+PPT","Control","PPT","PPT+MPP"],"range":["#00ff00","#ffa500","#a020f0","#00ffff","#ffc0cb","#b03060"]},"legend":{"orient":"none","legendX":274.4,"legendY":-52.7,"strokeColor":"#777","fillColor":"white","padding":3,"labelFontSize":4.6,"labelColor":"#444","symbolSize":10,"symbolType":"square","symbolStrokeWidth":0,"labelOffset":2.5,"rowPadding":0,"clipHeight":5.8}}}}
    ]}
   ]},
   {"width":138.4,"height":194.7,"title":{"text":"BDE-153+PPT","orient":"bottom","font":"Lato","fontSize":13.5,"fontWeight":"normal","color":"#222","offset":8.5,"dx":3},"resolve":{"scale":{"x":"independent","y":"independent"}},"layer":[
    {"data":{"name":"cd"},"mark":{"type":"rect","strokeWidth":0.6},"encoding":{"x":{"field":"c","type":"ordinal","scale":{"type":"band","paddingInner":0,"paddingOuter":0},"axis":null},"y":{"field":"r","type":"ordinal","scale":{"type":"band","paddingInner":0,"paddingOuter":0},"axis":null},"fill":{"field":"v","type":"quantitative","scale":{"domain":[-2.66,0,2.66],"range":["#0000ff","#000000","#ff0000"],"interpolate":"rgb"},"legend":null},"stroke":{"field":"v","type":"quantitative","scale":{"domain":[-2.66,0,2.66],"range":["#0000ff","#000000","#ff0000"],"interpolate":"rgb"},"legend":null}}},
    {"data":{"name":"bd"},"mark":{"type":"rect","fill":null,"strokeWidth":1},"encoding":{"x":{"field":"a","type":"quantitative","scale":{"domain":[0,28],"nice":false},"axis":null},"x2":{"field":"b"},"y":{"field":"t","type":"quantitative","scale":{"domain":[18,0],"nice":false},"axis":null},"y2":{"field":"u"},"stroke":{"field":"k","type":"nominal","scale":{"domain":["up","down"],"range":["#d9ae2c","#d8d0e0"]},"legend":null}}},
    {"data":{"name":"rd"},"mark":{"type":"text","align":"left","dx":3,"fontSize":5.3,"color":"#444"},"encoding":{"x":{"datum":1,"type":"quantitative","scale":{"domain":[0,1]},"axis":null},"y":{"field":"r","type":"ordinal","scale":{"type":"band","paddingInner":0,"paddingOuter":0},"axis":null},"text":{"field":"label"}}}
   ]}
  ]}
 ]}
]}
]}
